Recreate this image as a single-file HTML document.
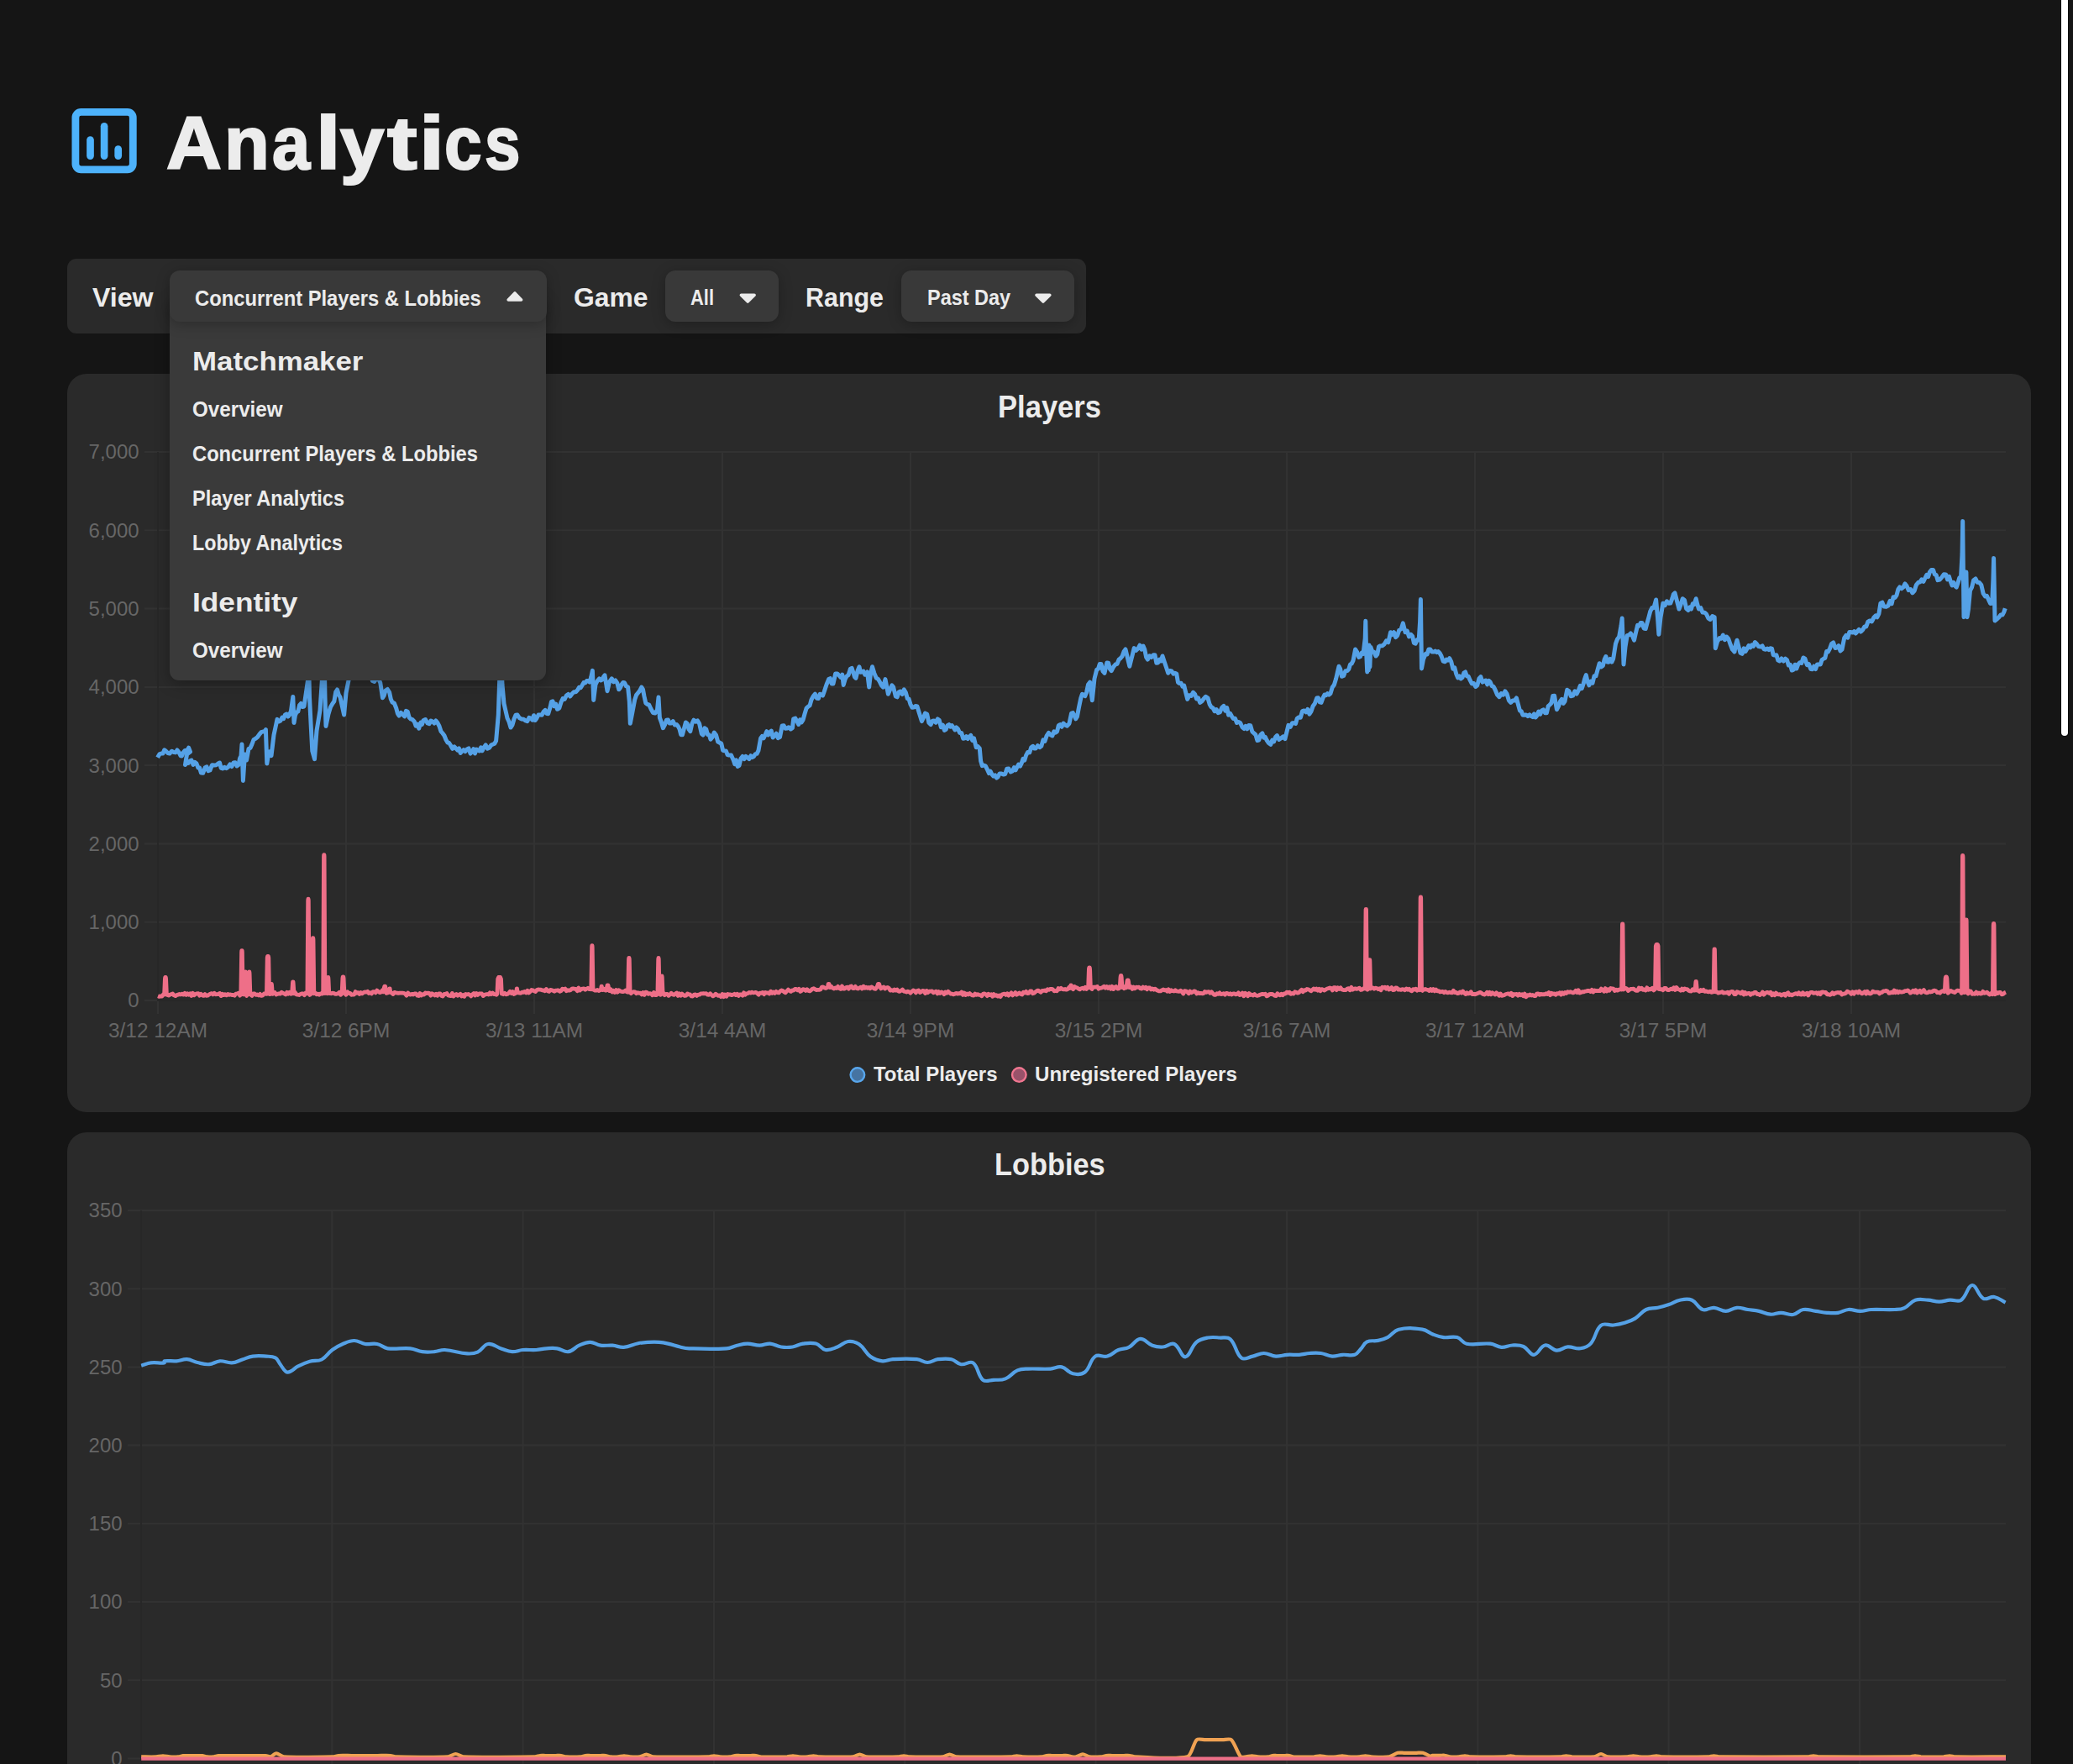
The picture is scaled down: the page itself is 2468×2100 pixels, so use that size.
<!DOCTYPE html>
<html lang="en">
<head>
<meta charset="utf-8">
<title>Analytics</title>
<style>
*{box-sizing:border-box;margin:0;padding:0}
html,body{width:2468px;height:2100px;overflow:hidden;background:#151515}
body{position:relative;font-family:"Liberation Sans",sans-serif;color:#ececec}
.abs{position:absolute}
.t{position:absolute;white-space:nowrap;line-height:1;transform-origin:0 50%;color:#ececec}
.b{font-weight:bold}
.ttl{position:absolute;left:0;top:126.24px;font-size:89.5px;line-height:1;font-weight:bold;color:#ececec;-webkit-text-stroke:2.2px #ececec}
.ttl span{position:absolute;top:0;transform-origin:0 50%;display:block}
.toolbar{left:80px;top:308px;width:1213px;height:88.5px;border-radius:11px;background:#2a2a2a}
.btn{top:322px;height:61px;border-radius:12px;background:#393939;box-shadow:0 3px 16px rgba(0,0,0,.26)}
.card{left:80px;width:2337.5px;border-radius:23px;background:#2a2a2a}
.menu{left:202px;top:352px;width:448px;height:457.5px;border-radius:12px 12px 11px 11px;background:#3a3a3a;box-shadow:0 4px 18px rgba(0,0,0,.30)}
.ax{fill:#666;font-family:"Liberation Sans",sans-serif;font-size:24px}
.axx{font-size:24.4px}
.scroll{left:2454px;top:-8px;width:8px;height:883.5px;border-radius:4px;background:#fff;box-shadow:0 0 0 1px #000}
svg{position:absolute;left:0;top:0;overflow:visible}
</style>
</head>
<body>
<!-- header -->
<svg class="abs" width="2468" height="300" viewBox="0 0 2468 300">
  <rect x="89.9" y="133.4" width="68.4" height="68.4" rx="6.5" ry="6.5" fill="none" stroke="#4db2fb" stroke-width="8.8"/>
  <g stroke="#4db2fb" stroke-width="8.7" stroke-linecap="round">
    <line x1="107.5" y1="166.5" x2="107.5" y2="185.6"/>
    <line x1="124.1" y1="150.3" x2="124.1" y2="185.6"/>
    <line x1="140.7" y1="177.7" x2="140.7" y2="185.6"/>
  </g>
</svg>
<h1 class="ttl" aria-label="Analytics"><span style="left:198.18px;transform:scaleX(1.0174)">A</span><span style="left:267.07px;transform:scaleX(0.9831)">n</span><span style="left:323.88px;transform:scaleX(0.9063)">a</span><span style="left:375.7px;transform:scaleX(1.1842)">l</span><span style="left:405.45px;transform:scaleX(1.0498)">y</span><span style="left:460.62px;transform:scaleX(1.1954)">t</span><span style="left:498.5px;transform:scaleX(1.2039)">i</span><span style="left:529.1px;transform:scaleX(0.8962)">c</span><span style="left:576.58px;transform:scaleX(0.8528)">s</span></h1>

<!-- toolbar -->
<div class="abs toolbar"></div>
<div class="t b" id="t_view" style="left:110.3px;top:337.91px;font-size:32px;transform:scaleX(1.0035)">View</div>
<div class="t b" id="t_game" style="left:682.6px;top:337.91px;font-size:32px;transform:scaleX(0.9962)">Game</div>
<div class="abs btn" style="left:792px;width:135px"></div>
<div class="t b" id="t_all" style="left:822px;top:342.44px;font-size:25.0px;transform:scaleX(0.8763)">All</div>
<div class="t b" id="t_range" style="left:958.8px;top:337.91px;font-size:32px;transform:scaleX(0.9510)">Range</div>
<div class="abs btn" style="left:1073px;width:205.7px"></div>
<div class="t b" id="t_past" style="left:1103.5px;top:342.44px;font-size:25.0px;transform:scaleX(0.9382)">Past Day</div>

<!-- cards -->
<div class="abs card" style="top:445px;height:878.5px"></div>
<div class="abs card" style="top:1348px;height:800px"></div>
<div class="t b" id="t_players" style="left:1188.1px;top:466.18px;font-size:37px;transform:scaleX(0.9341)">Players</div>
<div class="t b" id="t_lobbies" style="left:1183.7px;top:1368.48px;font-size:37px;transform:scaleX(0.9285)">Lobbies</div>

<!-- charts -->
<svg width="2468" height="2100" viewBox="0 0 2468 2100">
  <g stroke="#323232" stroke-width="2" fill="none">
    <path d="M172 538.0H2388"/>
    <path d="M172 631.3H2388"/>
    <path d="M172 724.6H2388"/>
    <path d="M172 817.9H2388"/>
    <path d="M172 911.1H2388"/>
    <path d="M172 1004.4H2388"/>
    <path d="M172 1097.7H2388"/>
    <path d="M172 1191H187"/>
    <path d="M187 1191H2388" stroke="#272727"/>
    <path d="M188 538V1190" stroke="#272727"/><path d="M188 1192V1207"/>
    <path d="M412 538V1207"/>
    <path d="M636 538V1207"/>
    <path d="M860 538V1207"/>
    <path d="M1084 538V1207"/>
    <path d="M1308 538V1207"/>
    <path d="M1532 538V1207"/>
    <path d="M1756 538V1207"/>
    <path d="M1980 538V1207"/>
    <path d="M2204 538V1207"/>
  </g>
  <g class="ax" text-anchor="end"><text x="165.6" y="546.4">7,000</text><text x="165.6" y="639.7">6,000</text><text x="165.6" y="733.0">5,000</text><text x="165.6" y="826.3">4,000</text><text x="165.6" y="919.5">3,000</text><text x="165.6" y="1012.8">2,000</text><text x="165.6" y="1106.1">1,000</text><text x="165.6" y="1199.4">0</text></g>
  <g class="ax axx" text-anchor="middle"><text x="188.0" y="1234.8">3/12 12AM</text><text x="412.0" y="1234.8">3/12 6PM</text><text x="636.0" y="1234.8">3/13 11AM</text><text x="860.0" y="1234.8">3/14 4AM</text><text x="1084.0" y="1234.8">3/14 9PM</text><text x="1308.0" y="1234.8">3/15 2PM</text><text x="1532.0" y="1234.8">3/16 7AM</text><text x="1756.0" y="1234.8">3/17 12AM</text><text x="1980.0" y="1234.8">3/17 5PM</text><text x="2204.0" y="1234.8">3/18 10AM</text></g>
  <clipPath id="c1"><rect x="185" y="520" width="2206" height="690"/></clipPath>
  <g clip-path="url(#c1)" fill="none" stroke-linejoin="round" stroke-linecap="butt">
    <path d="M187.6 901.8L189.8 897.9L192.0 897.0L193.9 897.1L195.7 892.8L197.6 894.3L199.8 896.5L202.0 897.0L204.5 894.2L207.0 895.6L209.0 895.9L211.0 893.0L213.0 895.6L215.0 899.7L216.5 899.9L218.0 896.0L220.2 893.4L222.4 893.9L224.6 890.2L226.5 895.0L222.5 898.0L220.5 910.5L222.3 908.2L224.2 908.4L226.0 906.0L228.0 905.0L230.0 910.4L232.0 907.3L234.0 909.0L235.8 913.9L237.6 914.0L239.4 920.0L241.7 920.3L244.0 914.0L246.0 912.8L248.0 917.7L250.0 917.0L252.5 910.7L255.0 911.0L257.4 910.7L259.7 909.0L261.5 908.0L263.2 914.4L265.0 915.0L267.3 913.3L269.5 914.6L271.8 913.0L273.9 909.9L275.9 912.6L278.0 908.0L280.0 907.7L282.0 911.9L284.0 910.5L285.5 902.9L287.0 900.0L288.0 886.0L289.4 929.4L291.5 898.0L293.5 905.0L296.0 891.5L298.0 890.4L300.0 886.0L302.0 880.6L304.0 879.4L306.5 877.5L309.0 874.0L311.0 871.7L313.0 871.0L314.7 871.0L316.4 868.6L317.8 909.0L320.0 895.0L321.5 894.8L323.0 899.7L324.5 887.4L326.0 875.0L328.0 865.7L330.0 856.4L332.0 859.0L334.0 858.0L335.8 854.2L337.6 855.6L339.4 851.0L341.2 850.1L343.0 853.0L344.8 850.9L346.5 846.0L348.8 829.4L350.0 860.5L351.5 851.4L353.0 848.0L354.8 847.1L356.5 839.7L358.3 837.5L360.1 841.5L362.0 841.0L364.2 825.8L366.4 810.5L367.3 770.0L368.5 830.0L370.1 862.0L371.8 894.0L374.5 903.7L377.0 870.0L379.0 857.8L381.0 845.6L382.5 822.8L384.0 800.0L385.8 760.0L387.0 830.0L388.0 864.5L389.5 857.2L391.0 850.0L393.5 841.7L396.0 837.5L397.8 835.1L399.7 823.9L401.5 821.0L403.2 826.9L405.0 830.0L407.3 840.5L409.6 851.0L412.0 825.0L413.5 817.5L415.0 810.0L417.5 800.7L420.0 798.0L422.0 796.3L424.0 790.9L426.0 790.0L428.0 793.7L430.0 791.0L432.0 793.0L434.0 797.6L436.0 797.6L438.0 801.0L439.8 806.6L441.6 804.6L443.4 810.5L445.7 811.5L448.0 808.0L450.4 807.4L452.8 813.0L455.5 830.8L457.2 827.9L459.0 822.0L461.3 820.5L463.6 824.0L465.3 832.3L467.0 836.0L469.4 837.3L471.7 843.0L473.4 849.4L475.0 852.0L477.4 848.5L479.8 851.0L481.6 852.9L483.4 846.4L485.2 847.0L487.1 854.0L489.0 856.0L491.1 856.7L493.3 859.0L495.1 864.3L496.9 862.1L498.7 867.2L501.0 860.0L502.5 862.3L504.0 857.8L506.5 856.5L509.0 861.0L511.0 861.7L513.0 858.0L515.0 859.0L517.0 861.0L519.0 858.0L521.0 860.6L523.0 864.5L525.0 870.6L527.0 873.0L529.0 875.8L531.0 880.8L532.9 884.0L534.7 884.5L536.6 887.5L538.7 891.4L540.9 888.9L543.0 891.0L544.8 893.1L546.5 891.0L548.2 896.5L550.0 894.3L552.0 892.7L554.0 894.6L556.0 892.0L558.0 890.9L560.0 897.1L562.0 895.0L563.8 891.6L565.5 897.0L567.2 892.1L569.0 893.0L570.8 894.0L572.5 889.9L574.2 893.8L576.0 890.0L578.2 886.8L580.3 891.2L582.5 890.2L584.8 887.0L587.0 886.0L588.8 885.2L590.6 882.0L593.3 851.0L595.0 800.0L596.3 770.0L598.0 815.0L600.0 837.5L602.0 846.2L604.0 855.0L606.0 859.2L608.0 866.0L610.0 863.0L612.0 856.0L614.0 851.3L616.0 851.0L618.5 854.8L621.0 856.0L623.4 856.3L625.7 857.8L627.8 858.6L629.9 854.3L632.0 855.0L633.8 857.2L635.5 851.7L637.2 857.5L639.0 855.0L641.0 851.0L643.0 851.0L645.1 851.3L647.3 847.0L649.1 845.4L650.9 849.6L652.7 849.7L655.0 842.0L656.5 835.3L658.0 834.8L659.8 840.8L661.7 838.1L663.5 844.3L665.8 843.0L668.0 836.0L670.1 831.6L672.2 832.4L674.3 828.0L676.5 826.4L678.8 829.0L681.0 826.0L683.3 823.7L685.5 823.7L687.8 821.3L689.5 818.3L691.3 818.8L693.0 816.0L694.9 812.6L696.7 813.1L698.6 810.5L700.3 810.6L702.0 812.0L703.7 806.2L705.4 798.4L706.7 833.5L709.0 815.0L711.2 810.5L713.5 807.8L715.2 810.0L717.0 809.0L718.5 805.7L720.0 803.8L721.5 813.2L723.0 822.7L725.5 812.0L728.3 807.8L730.5 811.9L732.7 810.0L734.8 813.1L736.8 820.8L738.4 818.9L740.0 815.0L741.8 812.5L743.5 812.7L745.5 816.9L747.6 818.0L749.3 835.0L750.3 861.3L752.5 850.0L754.1 841.5L755.7 833.0L757.6 827.4L759.5 825.0L761.6 822.4L763.8 818.0L765.4 820.5L767.0 829.0L768.8 837.0L770.5 838.3L772.8 839.2L775.0 844.0L777.5 848.5L780.0 849.0L782.5 845.0L784.0 830.0L785.4 854.5L787.4 859.8L789.4 866.7L791.5 862.8L793.5 857.2L795.3 856.9L797.2 861.1L799.0 861.0L801.2 858.6L803.4 863.1L805.6 862.6L807.3 864.6L809.0 868.0L810.7 874.7L812.4 874.8L814.4 867.4L816.4 860.0L818.2 861.5L820.0 868.1L821.8 870.7L823.8 861.8L825.9 857.2L828.1 859.2L830.4 857.9L832.6 861.3L835.3 873.5L837.1 875.0L838.9 866.8L840.7 868.0L842.5 874.6L844.2 874.8L846.0 880.2L848.1 877.7L850.2 872.0L852.5 875.0L854.7 883.0L857.0 884.3L858.8 885.3L860.6 893.3L862.4 893.7L864.3 893.9L866.1 898.5L868.0 899.0L870.5 898.9L873.0 904.5L874.8 909.6L876.5 904.9L878.2 912.5L880.0 911.3L882.0 903.0L884.0 900.5L886.0 903.7L888.0 900.3L890.0 902.0L891.9 903.7L893.8 899.7L895.6 901.6L897.5 900.5L899.3 897.6L901.1 897.3L902.9 893.7L905.6 878.9L907.4 876.3L909.2 878.8L911.0 875.0L912.8 870.7L914.6 874.9L916.4 872.0L918.3 870.1L920.1 878.0L922.0 876.0L924.2 873.2L926.3 878.6L928.5 877.5L931.2 864.0L933.1 863.8L935.1 867.2L937.0 867.0L939.1 865.7L941.3 868.0L943.4 866.7L944.7 855.9L946.9 855.1L949.0 859.0L950.7 862.5L952.5 856.7L954.2 860.0L956.1 856.9L958.0 850.0L960.1 843.1L962.3 841.0L964.1 839.8L966.0 833.0L968.2 828.8L970.4 826.2L972.5 831.3L974.5 831.6L976.2 826.2L978.0 827.0L979.6 828.0L981.2 823.5L984.0 815.0L986.6 808.6L988.4 807.7L990.2 814.1L992.0 814.0L994.7 801.9L996.9 801.9L999.0 804.0L1000.9 806.4L1002.8 803.2L1004.2 815.4L1006.1 808.7L1008.0 805.0L1010.1 803.6L1012.3 796.5L1014.1 795.4L1016.0 801.0L1017.5 805.9L1019.0 807.3L1021.0 798.8L1023.0 793.8L1024.5 800.2L1026.0 800.0L1027.9 799.0L1029.8 803.2L1032.5 800.0L1034.7 818.0L1036.5 802.0L1038.5 793.8L1040.9 801.6L1043.3 807.3L1045.2 808.2L1047.0 811.0L1049.2 815.5L1051.4 818.0L1054.0 808.6L1055.7 817.4L1057.4 826.2L1060.0 820.0L1061.8 815.9L1063.6 818.0L1066.3 828.9L1068.2 829.8L1070.1 824.0L1072.0 823.0L1074.2 826.5L1076.3 820.9L1078.5 824.8L1080.3 831.7L1082.1 832.2L1083.9 838.3L1086.0 842.3L1088.0 842.0L1090.0 840.5L1092.0 841.0L1093.8 846.9L1095.6 852.7L1097.4 858.6L1099.4 854.5L1101.4 849.1L1103.7 850.3L1105.9 860.5L1108.2 862.6L1110.1 858.2L1112.0 858.0L1114.2 860.2L1116.3 855.9L1118.3 857.5L1120.3 865.7L1122.4 863.1L1124.4 869.4L1126.2 868.3L1128.0 863.6L1129.8 862.6L1131.5 865.2L1133.3 863.6L1135.0 866.0L1136.9 868.9L1138.7 866.0L1140.6 868.0L1142.6 872.5L1144.7 872.5L1146.7 879.3L1148.7 878.9L1150.5 876.7L1152.2 879.5L1154.0 877.0L1155.8 875.4L1157.7 881.4L1159.5 878.9L1162.2 889.7L1164.2 888.6L1166.3 891.0L1167.6 905.9L1169.3 911.6L1171.0 911.0L1173.3 911.8L1175.7 916.7L1177.5 920.6L1179.2 918.2L1181.0 922.0L1182.8 924.0L1184.7 922.9L1186.5 926.1L1188.2 924.7L1190.0 921.0L1192.3 920.9L1194.6 922.0L1196.7 921.5L1198.7 915.3L1200.9 915.1L1203.2 919.0L1205.4 918.0L1207.3 913.7L1209.1 916.8L1211.0 913.0L1212.7 910.0L1214.5 912.1L1216.2 908.6L1218.0 903.3L1219.8 905.1L1221.6 899.1L1223.6 895.5L1225.7 895.9L1227.7 889.7L1229.7 888.3L1231.3 891.0L1233.0 891.0L1235.4 887.6L1237.8 889.7L1239.8 888.3L1241.9 880.8L1244.0 882.3L1246.0 876.2L1248.5 872.4L1251.0 875.0L1252.9 875.9L1254.8 870.8L1256.7 872.1L1258.5 870.9L1260.3 863.7L1262.1 862.6L1264.1 865.3L1266.0 861.0L1268.0 863.0L1270.5 864.2L1273.0 861.3L1275.6 849.1L1277.3 848.6L1279.0 852.0L1280.7 855.8L1282.4 853.2L1284.5 842.0L1286.8 831.0L1288.4 826.4L1290.0 827.0L1291.8 828.7L1293.5 824.3L1295.5 815.0L1297.6 812.1L1300.3 833.7L1303.0 808.0L1305.7 797.2L1307.5 796.3L1309.2 790.6L1311.0 790.5L1313.0 799.1L1315.0 801.3L1317.8 789.0L1319.6 789.2L1321.4 796.4L1323.2 798.6L1325.6 793.9L1328.0 791.0L1330.0 790.4L1332.0 785.3L1334.0 783.7L1336.0 781.4L1338.0 775.8L1340.0 773.0L1342.4 783.1L1344.8 793.2L1346.6 786.0L1348.4 778.8L1350.2 771.6L1352.6 774.3L1355.0 772.0L1357.0 768.2L1359.0 773.1L1361.0 769.0L1362.8 773.3L1364.6 782.3L1366.4 785.0L1368.7 780.8L1370.9 782.5L1373.2 779.7L1375.0 779.7L1376.8 789.2L1378.6 789.0L1380.4 785.1L1382.2 786.9L1384.0 781.0L1386.2 787.8L1388.5 794.5L1390.7 801.3L1392.8 798.4L1395.0 799.0L1397.0 802.1L1398.9 801.3L1400.7 802.0L1402.5 812.4L1404.3 813.5L1406.1 813.3L1407.9 817.1L1409.7 816.2L1411.7 824.3L1413.7 832.4L1416.0 827.7L1418.2 828.5L1420.5 824.3L1422.5 826.2L1424.5 831.8L1426.6 830.8L1428.6 836.4L1430.8 834.9L1433.0 832.0L1435.5 829.3L1438.0 831.0L1440.0 838.2L1442.0 841.8L1444.0 842.8L1446.1 846.7L1448.2 844.6L1450.2 848.6L1452.4 847.9L1454.7 842.4L1456.9 840.5L1458.8 846.3L1460.7 842.5L1462.6 851.1L1464.5 849.3L1466.4 852.6L1468.4 855.6L1470.5 855.3L1472.5 860.5L1474.5 859.4L1476.7 860.7L1479.0 865.8L1481.2 867.5L1483.0 864.4L1484.8 867.9L1486.6 863.4L1488.7 863.7L1490.9 871.1L1493.0 873.0L1494.9 874.6L1496.9 881.5L1498.8 881.0L1500.8 874.8L1502.9 872.9L1504.6 878.2L1506.3 877.4L1508.0 881.0L1510.4 884.5L1512.8 886.4L1514.7 881.2L1516.6 882.8L1518.5 877.5L1520.4 875.6L1522.7 880.5L1525.0 879.0L1527.5 876.9L1529.9 879.6L1531.9 871.5L1533.9 863.4L1536.2 865.3L1538.4 860.8L1540.7 860.7L1542.5 861.5L1544.2 855.4L1546.0 854.0L1548.3 854.3L1550.5 846.7L1552.8 845.9L1554.8 847.8L1556.8 844.4L1558.9 850.1L1560.9 847.2L1563.2 840.4L1565.4 837.4L1567.7 831.0L1569.5 830.7L1571.2 835.9L1573.0 836.4L1575.0 830.8L1577.0 827.0L1578.8 827.7L1580.5 825.6L1582.2 827.1L1584.0 825.6L1586.2 818.3L1588.4 815.3L1590.6 808.0L1592.3 800.6L1594.0 793.2L1595.7 796.5L1597.4 805.3L1599.6 804.5L1601.8 798.8L1604.0 798.6L1605.8 796.6L1607.5 790.9L1609.2 790.1L1611.0 786.4L1613.6 773.0L1615.7 776.4L1617.7 782.4L1619.5 781.7L1621.2 777.0L1623.0 778.3L1625.2 760.0L1625.8 739.2L1626.6 775.0L1627.7 800.0L1628.5 774.0L1629.3 798.0L1630.1 768.0L1630.9 794.0L1631.8 770.2L1633.9 775.9L1635.9 776.3L1638.0 781.0L1639.8 778.9L1641.5 769.7L1643.3 768.9L1645.7 768.8L1648.0 767.0L1650.4 763.0L1652.8 764.8L1655.5 752.7L1657.5 755.5L1659.5 752.7L1661.6 758.6L1663.6 756.7L1665.8 750.1L1668.1 748.9L1670.3 741.9L1673.0 752.7L1675.3 751.1L1677.5 757.9L1679.8 755.4L1681.6 757.4L1683.4 765.5L1685.2 766.2L1687.2 761.5L1689.2 762.0L1690.6 740.0L1691.4 713.5L1692.0 760.0L1692.5 795.9L1694.5 785.0L1697.3 778.3L1699.1 778.9L1700.9 773.0L1702.7 773.0L1704.8 776.1L1707.0 776.0L1708.7 775.1L1710.5 776.7L1712.2 775.6L1714.1 777.5L1716.0 781.0L1718.2 787.1L1720.3 787.8L1722.1 785.1L1723.9 786.1L1725.7 783.7L1727.7 787.6L1729.8 796.1L1731.8 794.8L1733.8 802.6L1735.6 806.9L1737.4 804.8L1739.2 808.0L1741.0 806.6L1742.8 801.2L1744.6 800.0L1746.4 805.0L1748.2 805.2L1750.0 809.4L1752.3 813.9L1754.5 813.5L1756.8 817.5L1758.8 816.0L1760.8 808.0L1762.9 805.7L1764.9 812.1L1767.0 811.0L1768.8 810.0L1770.7 814.9L1772.5 810.4L1774.3 812.1L1776.2 816.7L1778.1 817.4L1780.0 821.0L1782.5 827.0L1785.0 829.7L1787.3 825.5L1789.6 827.2L1791.9 822.9L1794.1 826.2L1796.4 833.9L1798.6 836.4L1800.9 834.0L1803.1 834.1L1805.4 831.0L1807.4 838.5L1809.4 845.9L1811.2 846.8L1813.0 851.2L1814.8 851.3L1816.8 850.9L1818.9 852.6L1821.0 850.8L1823.0 852.6L1824.8 853.6L1826.5 849.9L1828.2 853.9L1830.0 851.6L1831.8 847.0L1833.7 850.3L1835.5 846.0L1837.5 844.8L1839.6 848.8L1841.4 848.7L1843.2 840.7L1845.0 839.2L1846.9 837.0L1848.7 828.5L1850.6 828.2L1853.4 844.7L1855.5 840.9L1857.5 835.0L1859.3 832.4L1861.2 837.4L1863.0 835.0L1865.7 821.3L1868.0 822.9L1870.3 828.8L1872.6 828.2L1874.9 822.8L1877.2 826.0L1879.5 821.3L1881.3 816.4L1883.2 819.6L1885.0 814.5L1886.7 808.0L1888.3 803.5L1890.1 811.7L1891.9 815.8L1893.9 811.0L1896.0 813.2L1898.0 804.7L1900.0 804.8L1902.1 797.2L1904.2 789.7L1906.3 794.0L1908.4 792.5L1910.2 784.8L1911.9 781.5L1913.6 788.0L1915.2 788.3L1917.0 784.4L1918.9 788.1L1920.7 784.2L1923.5 766.3L1925.5 761.0L1927.6 758.1L1930.0 745.0L1931.2 736.1L1932.2 765.0L1933.0 791.0L1935.0 770.0L1937.2 756.7L1939.3 756.0L1941.4 754.0L1943.5 757.1L1945.5 762.2L1947.5 753.3L1949.6 744.4L1951.4 745.1L1953.2 741.6L1955.0 741.6L1957.1 748.0L1959.2 748.5L1961.0 741.6L1962.9 734.8L1964.7 727.9L1966.8 723.6L1968.9 723.7L1971.6 714.0L1973.5 735.0L1974.9 755.3L1977.0 735.0L1979.9 718.2L1982.2 720.6L1984.4 715.8L1986.7 718.2L1988.8 718.0L1990.8 712.7L1992.4 707.3L1994.0 705.9L1996.5 715.5L1999.0 725.0L2001.1 719.5L2003.2 712.7L2005.5 714.5L2007.7 724.6L2010.0 726.5L2011.8 722.8L2013.5 725.1L2015.2 718.9L2017.0 719.6L2019.2 712.7L2020.8 719.6L2022.5 725.0L2024.8 723.7L2027.0 729.1L2029.3 729.2L2031.6 731.2L2033.9 736.1L2036.2 737.5L2038.7 733.5L2041.2 734.7L2042.3 771.8L2044.5 764.0L2047.2 759.5L2049.3 760.3L2051.3 756.1L2053.4 761.7L2055.5 758.0L2057.8 760.5L2060.0 767.0L2062.5 773.2L2065.0 776.0L2066.5 767.2L2068.0 762.2L2070.0 769.8L2072.0 777.3L2074.1 778.4L2076.1 771.8L2078.1 775.5L2080.2 771.8L2082.0 768.5L2083.9 770.8L2085.7 768.0L2087.5 769.4L2089.4 764.5L2091.2 766.3L2093.6 769.6L2096.0 770.0L2098.1 768.9L2100.1 772.8L2102.2 773.2L2104.0 772.0L2105.9 773.6L2107.7 771.8L2109.5 772.1L2111.2 779.8L2113.0 780.0L2114.9 779.8L2116.8 786.1L2118.7 787.0L2121.0 784.0L2123.3 787.0L2125.6 784.2L2127.5 785.7L2129.4 792.0L2131.4 791.4L2133.3 798.0L2135.2 797.4L2137.0 791.2L2138.8 796.0L2140.7 791.0L2142.8 788.7L2144.8 789.5L2146.9 783.0L2149.0 784.2L2151.3 791.6L2153.5 790.6L2155.8 796.6L2157.7 796.8L2159.6 793.2L2161.6 796.5L2163.5 790.9L2165.4 791.0L2167.3 791.0L2169.1 785.5L2171.0 784.2L2172.8 783.5L2174.6 775.5L2176.4 776.0L2178.5 772.1L2180.6 766.3L2182.7 765.0L2184.9 771.5L2187.0 771.0L2189.0 768.7L2191.0 775.0L2193.0 773.2L2195.7 759.5L2197.8 756.5L2199.8 759.2L2201.8 752.4L2203.9 752.6L2205.7 753.1L2207.4 751.7L2209.2 754.1L2211.0 752.0L2213.2 749.4L2215.5 752.0L2217.7 749.8L2219.8 746.1L2221.8 745.9L2223.9 740.1L2226.0 738.9L2228.5 739.9L2231.0 735.0L2233.0 732.9L2234.9 734.8L2236.9 730.6L2238.9 718.2L2240.9 717.2L2243.0 722.0L2245.5 722.4L2248.0 721.0L2250.1 715.4L2252.1 718.8L2254.1 710.7L2256.2 711.4L2258.0 708.7L2259.9 701.5L2261.7 699.0L2263.8 700.7L2266.0 699.0L2268.0 694.9L2270.0 697.6L2272.3 702.6L2274.5 701.5L2276.8 705.9L2279.1 703.6L2281.4 696.3L2283.7 693.5L2285.8 692.9L2287.8 689.9L2289.9 692.3L2292.0 688.0L2293.8 684.3L2295.6 686.6L2297.4 681.1L2299.4 678.5L2301.5 678.4L2303.3 683.8L2305.2 684.6L2307.0 690.7L2309.5 690.0L2312.0 687.0L2314.3 683.8L2316.7 683.9L2318.5 689.9L2320.4 686.3L2322.2 692.1L2324.0 696.8L2325.9 693.4L2327.7 697.6L2329.3 699.0L2331.0 694.0L2332.8 687.8L2334.5 688.0L2336.0 660.0L2336.7 620.6L2337.4 680.0L2338.0 734.7L2339.3 730.0L2340.9 681.1L2342.0 734.7L2343.5 725.0L2345.5 703.1L2347.6 699.0L2349.7 690.7L2352.0 689.0L2354.2 693.3L2356.5 693.5L2358.8 696.3L2361.1 706.4L2363.4 710.0L2365.4 709.3L2367.5 714.0L2369.6 718.5L2371.7 718.2L2372.9 690.0L2373.6 664.6L2374.3 700.0L2375.0 738.9L2377.5 737.0L2379.9 734.7L2381.9 731.9L2384.0 732.0L2385.7 728.9L2387.3 724.3" stroke="#55a1e6" stroke-width="5"/>
    <path d="M188.0 1185.8L189.6 1186.4L191.2 1185.8L192.8 1186.2L194.4 1183.9L195.6 1184.0L196.4 1165.4L196.7 1163.4L197.3 1163.4L197.6 1165.4L198.4 1184.0L199.2 1184.4L200.8 1185.0L202.4 1184.2L204.0 1183.6L205.6 1182.9L207.2 1184.9L208.8 1185.6L210.4 1184.6L212.0 1184.2L213.6 1183.5L215.2 1184.0L216.8 1183.1L218.4 1184.1L220.0 1182.3L221.6 1184.4L223.2 1182.7L224.8 1184.2L226.4 1182.7L228.0 1185.5L229.6 1182.3L231.2 1184.8L232.8 1183.4L234.4 1182.8L236.0 1182.7L237.6 1185.1L239.2 1183.3L240.8 1184.9L242.4 1185.4L244.0 1183.5L245.6 1185.3L247.2 1185.2L248.8 1184.1L250.4 1183.2L252.0 1182.6L253.6 1183.9L255.2 1182.3L256.8 1183.8L258.4 1183.7L260.0 1183.3L261.6 1182.5L263.2 1185.6L264.8 1183.3L266.4 1184.6L268.0 1183.6L269.6 1184.8L271.2 1183.5L272.8 1184.3L274.4 1183.9L276.0 1184.5L277.6 1184.4L279.2 1185.2L280.8 1183.1L282.4 1182.9L284.0 1182.2L285.6 1185.2L286.8 1183.9L287.6 1133.6L287.8 1131.6L288.2 1131.6L288.4 1133.6L289.2 1183.9L290.4 1183.9L291.2 1183.9L292.0 1159.0L292.2 1157.0L292.4 1157.0L292.6 1159.0L293.4 1183.9L293.6 1185.5L295.2 1183.0L295.7 1183.8L296.5 1159.0L296.7 1157.0L296.9 1157.0L297.1 1159.0L297.9 1183.8L298.4 1184.2L300.0 1185.5L301.6 1182.8L303.2 1183.0L304.8 1184.3L306.4 1184.0L308.0 1185.0L309.6 1183.4L311.2 1185.4L312.8 1184.9L314.4 1183.0L316.0 1182.9L317.4 1183.4L318.2 1140.3L318.6 1138.3L319.4 1138.3L319.8 1140.3L320.6 1183.4L320.8 1183.6L322.2 1183.3L323.0 1173.5L323.2 1171.5L323.4 1171.5L323.6 1173.5L324.4 1183.3L325.6 1182.3L327.2 1181.5L328.8 1184.0L330.4 1183.3L332.0 1182.9L333.6 1183.2L335.2 1181.2L336.8 1182.3L338.4 1182.9L340.0 1183.9L341.6 1181.3L343.2 1183.2L344.8 1181.2L346.4 1183.3L347.6 1182.9L348.4 1170.8L348.6 1168.8L349.0 1168.8L349.2 1170.8L350.0 1182.9L351.2 1181.2L352.8 1183.8L354.4 1184.2L356.0 1184.5L357.6 1183.7L359.2 1182.9L360.8 1183.0L362.4 1184.7L364.0 1181.8L365.6 1182.1L365.9 1182.8L366.7 1072.2L366.9 1070.2L367.1 1070.2L367.3 1072.2L368.1 1182.8L368.8 1184.4L370.4 1183.0L371.4 1182.8L372.2 1118.7L372.4 1116.7L372.8 1116.7L373.0 1118.7L373.8 1182.8L375.2 1181.9L376.8 1183.8L378.4 1183.1L380.0 1184.2L381.6 1182.8L383.2 1183.2L384.7 1182.7L385.5 1019.6L385.7 1017.6L385.9 1017.6L386.1 1019.6L386.9 1182.7L388.0 1181.2L389.6 1182.7L390.4 1165.4L390.6 1163.4L390.8 1163.4L391.0 1165.4L391.8 1182.7L392.8 1182.0L394.4 1182.8L396.0 1182.2L397.6 1182.5L399.2 1183.3L400.8 1183.3L402.4 1182.7L404.0 1181.2L405.6 1184.3L407.1 1182.6L407.9 1164.9L408.2 1162.9L408.8 1162.9L409.1 1164.9L409.9 1182.6L410.4 1182.6L412.0 1184.3L413.6 1180.7L415.2 1182.5L416.8 1182.3L418.4 1184.3L420.0 1184.0L421.6 1184.0L423.2 1180.6L424.8 1182.2L426.4 1181.6L428.0 1183.5L429.6 1181.5L431.2 1182.8L432.8 1181.6L434.4 1181.0L436.0 1181.1L437.6 1180.3L439.2 1182.5L440.8 1181.6L442.4 1182.9L444.0 1180.7L445.6 1180.7L447.2 1181.9L448.8 1179.1L450.4 1180.4L452.0 1181.6L453.6 1181.1L455.2 1178.9L456.5 1180.8L457.3 1176.2L457.8 1174.2L458.6 1174.2L459.1 1176.2L459.9 1180.8L460.0 1182.4L461.6 1181.8L462.8 1181.5L463.6 1179.0L463.8 1177.0L464.2 1177.0L464.4 1179.0L465.2 1181.5L466.4 1182.3L468.0 1183.4L469.6 1181.4L471.2 1181.9L472.8 1182.1L474.4 1182.4L476.0 1182.2L477.6 1182.2L479.2 1182.2L480.8 1182.3L482.4 1183.3L484.0 1185.2L485.6 1182.0L487.2 1183.7L488.8 1184.1L490.4 1183.3L492.0 1184.0L493.6 1183.0L495.2 1182.8L496.8 1185.2L498.4 1185.5L500.0 1182.5L501.6 1184.9L503.2 1183.7L504.8 1184.1L506.4 1181.9L508.0 1182.7L509.6 1182.1L511.2 1182.3L512.8 1185.2L514.4 1182.8L516.0 1183.6L517.6 1185.0L519.2 1183.2L520.8 1185.3L522.4 1182.8L524.0 1182.8L525.6 1185.4L527.2 1186.0L528.8 1183.5L530.4 1183.5L532.0 1182.5L533.6 1185.0L535.2 1185.4L536.8 1185.6L538.4 1182.4L540.0 1186.0L541.6 1184.5L543.2 1183.5L544.8 1185.2L546.4 1184.1L548.0 1183.3L549.6 1185.9L551.2 1184.6L552.8 1186.2L554.4 1183.5L556.0 1183.8L557.6 1183.5L559.2 1184.3L560.8 1185.9L562.4 1183.8L564.0 1182.5L565.6 1184.9L567.2 1182.5L568.8 1184.4L570.4 1183.0L572.0 1182.9L573.6 1182.9L575.2 1185.6L576.8 1184.3L578.4 1183.8L580.0 1183.5L581.6 1184.0L583.2 1181.9L584.8 1183.6L586.4 1182.0L588.0 1183.6L589.6 1183.7L591.2 1184.3L591.9 1183.2L592.7 1165.4L593.6 1163.4L595.6 1163.4L596.5 1165.4L597.3 1183.2L597.6 1181.5L599.2 1183.6L600.8 1182.3L602.4 1183.9L604.0 1183.5L605.6 1182.3L607.2 1180.4L608.8 1182.6L610.4 1180.6L612.0 1183.5L613.6 1182.6L614.2 1181.7L615.0 1179.0L615.2 1177.0L615.6 1177.0L615.8 1179.0L616.6 1181.7L616.8 1181.3L618.4 1182.2L620.0 1182.3L621.6 1181.2L623.2 1181.4L624.8 1180.4L626.4 1181.9L628.0 1179.3L629.6 1181.9L631.2 1180.5L632.8 1178.5L634.4 1178.9L636.0 1179.8L637.6 1180.5L639.2 1178.6L640.8 1178.0L642.4 1178.1L644.0 1178.2L645.6 1178.9L647.2 1179.0L648.8 1179.7L650.4 1177.5L652.0 1179.7L653.6 1180.4L655.2 1178.5L656.8 1178.7L658.4 1179.3L660.0 1180.2L661.6 1179.1L663.2 1179.0L664.8 1178.8L666.4 1180.4L668.0 1179.6L669.6 1177.2L671.2 1177.9L672.8 1177.1L674.4 1179.7L676.0 1178.7L677.6 1179.2L679.2 1178.7L680.8 1177.1L682.4 1176.8L684.0 1177.3L685.6 1177.4L687.2 1179.7L688.8 1176.0L690.4 1179.1L692.0 1177.6L693.6 1177.1L695.2 1176.8L696.8 1178.3L698.4 1177.3L700.0 1176.3L701.6 1177.6L703.2 1176.6L703.8 1177.8L704.6 1127.6L704.8 1125.6L705.0 1125.6L705.2 1127.6L706.0 1177.8L706.4 1178.1L708.0 1179.0L709.6 1179.2L711.2 1178.5L712.8 1179.5L714.4 1178.8L715.0 1178.6L715.8 1176.2L716.0 1174.2L716.4 1174.2L716.6 1176.2L717.4 1178.6L717.6 1176.9L719.2 1177.4L720.8 1179.1L721.8 1179.1L722.6 1174.9L723.0 1172.9L724.0 1172.9L724.4 1174.9L725.2 1179.1L725.6 1179.5L727.2 1177.8L728.8 1181.0L730.4 1179.4L732.0 1181.4L733.6 1178.6L735.2 1181.1L736.8 1178.7L738.4 1179.9L740.0 1180.3L741.6 1180.6L743.2 1180.2L744.8 1179.1L746.4 1180.9L747.7 1181.2L748.5 1142.5L748.7 1140.5L749.1 1140.5L749.3 1142.5L750.1 1181.2L751.2 1182.6L752.8 1181.2L754.4 1180.7L756.0 1180.8L757.6 1182.7L759.2 1181.7L760.8 1182.3L762.4 1182.2L764.0 1184.0L765.6 1181.6L767.2 1184.4L768.8 1181.2L770.4 1181.6L772.0 1183.4L773.6 1182.6L775.2 1183.0L776.8 1184.8L778.4 1181.4L780.0 1184.6L781.6 1184.5L782.9 1183.3L783.7 1142.5L783.9 1140.5L784.1 1140.5L784.3 1142.5L785.1 1183.3L786.4 1184.2L786.9 1183.4L787.7 1164.0L787.9 1162.0L788.1 1162.0L788.3 1164.0L789.1 1183.4L789.6 1181.6L791.2 1184.7L792.8 1183.3L794.4 1183.5L796.0 1185.3L797.6 1184.0L799.2 1182.2L800.8 1184.0L802.4 1184.3L804.0 1183.0L805.6 1182.0L807.2 1185.4L808.8 1182.9L810.4 1185.2L812.0 1183.1L813.6 1184.4L815.2 1185.5L816.8 1185.2L818.4 1182.9L820.0 1183.8L821.6 1183.9L823.2 1185.9L824.8 1186.0L826.4 1184.2L828.0 1184.0L829.6 1185.5L831.2 1184.2L832.8 1184.2L834.4 1182.9L836.0 1182.8L837.6 1182.7L839.2 1182.8L840.8 1182.7L842.4 1184.1L844.0 1184.3L845.6 1182.8L847.2 1184.5L848.8 1185.9L850.4 1184.9L852.0 1183.2L853.6 1184.4L855.2 1185.4L856.8 1184.9L858.4 1186.6L860.0 1183.5L861.6 1186.7L863.2 1184.0L864.8 1186.2L866.4 1183.4L868.0 1184.0L869.6 1184.0L871.2 1184.7L872.8 1184.1L874.4 1183.3L876.0 1184.6L877.6 1183.2L879.2 1185.5L880.8 1183.9L882.4 1184.0L884.0 1185.2L885.6 1181.8L887.2 1184.2L888.8 1182.9L890.4 1182.7L892.0 1181.4L893.6 1182.1L895.2 1181.2L896.8 1181.9L898.4 1181.7L900.0 1181.4L901.6 1182.7L903.2 1184.1L904.8 1182.1L906.4 1182.3L908.0 1181.5L909.6 1183.7L911.2 1181.5L912.8 1182.2L914.4 1181.9L916.0 1183.0L917.6 1180.2L919.2 1182.4L920.8 1180.9L922.4 1182.4L924.0 1180.4L925.6 1181.7L927.2 1181.9L928.8 1180.0L930.4 1178.9L932.0 1179.5L933.6 1180.9L935.2 1181.8L936.8 1179.8L938.4 1178.1L940.0 1179.3L941.6 1180.4L943.2 1179.0L944.8 1179.1L946.4 1177.5L948.0 1177.5L949.6 1178.8L951.2 1177.2L952.8 1180.4L954.4 1179.4L956.0 1177.6L957.6 1178.1L959.2 1179.4L960.8 1177.7L962.4 1179.5L964.0 1179.9L965.6 1178.8L967.2 1177.2L968.8 1176.7L970.4 1177.8L972.0 1178.5L973.6 1178.4L975.2 1178.4L976.8 1178.0L978.4 1175.1L980.0 1175.0L981.6 1175.9L983.2 1176.5L984.9 1175.6L985.7 1173.5L986.1 1171.5L987.1 1171.5L987.5 1173.5L988.3 1175.6L989.6 1174.3L991.2 1176.1L992.8 1177.0L994.4 1175.9L996.0 1176.5L997.6 1174.4L999.2 1176.6L1000.8 1177.4L1002.4 1173.9L1004.0 1177.1L1005.6 1177.2L1007.2 1175.5L1008.8 1175.2L1010.4 1177.1L1012.0 1174.6L1013.6 1174.0L1015.2 1176.6L1016.8 1176.5L1018.4 1174.4L1020.0 1176.6L1021.6 1177.0L1023.2 1176.0L1024.8 1175.3L1026.4 1177.0L1028.0 1174.2L1029.6 1176.3L1031.2 1175.1L1032.8 1176.4L1034.4 1175.5L1036.0 1176.8L1037.6 1174.9L1039.2 1175.8L1040.8 1177.0L1042.4 1177.4L1043.8 1175.6L1044.6 1173.5L1045.3 1171.5L1046.7 1171.5L1047.4 1173.5L1048.2 1175.6L1048.8 1176.9L1050.4 1176.0L1052.0 1174.9L1053.6 1177.0L1055.2 1175.8L1056.8 1175.5L1058.4 1176.6L1060.0 1179.1L1061.6 1178.6L1063.2 1179.4L1064.8 1177.9L1066.4 1179.1L1068.0 1178.1L1069.6 1180.1L1071.2 1180.3L1072.8 1179.3L1074.4 1178.0L1076.0 1180.2L1077.6 1180.5L1079.2 1181.0L1080.8 1180.2L1082.4 1180.7L1084.0 1182.1L1085.6 1180.4L1087.2 1178.9L1088.8 1179.7L1090.4 1181.9L1092.0 1179.5L1093.6 1179.0L1095.2 1181.5L1096.8 1180.8L1098.4 1179.4L1100.0 1179.6L1101.6 1182.6L1103.2 1179.5L1104.8 1181.6L1106.4 1180.1L1108.0 1180.1L1109.6 1179.9L1111.2 1181.8L1112.8 1181.1L1114.4 1180.2L1116.0 1182.9L1117.6 1180.6L1119.2 1182.5L1120.8 1180.9L1122.4 1181.7L1124.0 1183.6L1125.6 1181.0L1127.2 1182.3L1128.8 1180.4L1130.4 1181.8L1132.0 1183.1L1133.6 1183.2L1135.2 1183.9L1136.8 1183.2L1138.4 1182.3L1140.0 1183.2L1141.6 1182.6L1143.2 1182.8L1144.8 1181.0L1146.4 1184.4L1148.0 1182.0L1149.6 1184.5L1151.2 1183.0L1152.8 1184.0L1154.4 1182.6L1156.0 1184.0L1157.6 1184.9L1159.2 1185.0L1160.8 1183.0L1162.4 1184.4L1164.0 1183.6L1165.6 1184.4L1167.2 1184.6L1168.8 1185.8L1170.4 1183.4L1172.0 1182.9L1173.6 1183.6L1175.2 1185.6L1176.8 1183.2L1178.4 1184.6L1180.0 1183.8L1181.6 1186.3L1183.2 1183.6L1184.8 1185.3L1186.4 1184.7L1188.0 1186.1L1189.6 1184.9L1191.2 1186.6L1192.8 1184.0L1194.4 1183.4L1196.0 1183.1L1197.6 1184.4L1199.2 1182.8L1200.8 1185.1L1202.4 1183.5L1204.0 1181.9L1205.6 1184.9L1207.2 1183.3L1208.8 1181.6L1210.4 1184.3L1212.0 1183.1L1213.6 1182.0L1215.2 1183.5L1216.8 1184.0L1218.4 1181.2L1220.0 1182.0L1221.6 1180.3L1223.2 1182.7L1224.8 1182.3L1226.4 1180.0L1228.0 1180.0L1229.6 1182.8L1231.2 1182.3L1232.8 1180.8L1234.4 1179.6L1236.0 1179.1L1237.6 1180.2L1239.2 1181.3L1240.8 1179.4L1242.4 1179.4L1244.0 1179.0L1245.6 1179.8L1247.2 1177.8L1248.8 1178.3L1250.4 1177.5L1252.0 1177.3L1253.6 1178.0L1255.2 1179.8L1256.8 1179.5L1258.4 1179.8L1260.0 1176.6L1261.6 1177.7L1263.2 1176.3L1264.8 1177.6L1266.4 1177.9L1268.0 1177.5L1269.6 1178.2L1271.2 1177.6L1272.8 1175.3L1273.8 1176.5L1274.6 1174.9L1274.8 1172.9L1275.2 1172.9L1275.4 1174.9L1276.2 1176.5L1277.6 1177.7L1279.2 1174.5L1280.8 1175.6L1282.4 1175.9L1284.0 1177.1L1285.6 1177.9L1287.2 1176.7L1288.8 1176.2L1290.4 1177.3L1292.0 1175.4L1293.6 1177.4L1295.2 1174.4L1295.6 1176.0L1296.4 1153.8L1296.7 1151.8L1297.3 1151.8L1297.6 1153.8L1298.4 1176.0L1300.0 1177.5L1301.6 1175.1L1303.2 1175.2L1304.8 1175.2L1306.4 1174.4L1308.0 1177.2L1309.6 1176.4L1311.2 1176.2L1312.8 1175.3L1314.4 1174.3L1316.0 1176.1L1317.6 1174.5L1319.2 1176.5L1320.8 1174.8L1322.4 1177.3L1324.0 1174.3L1325.6 1177.6L1327.2 1175.2L1328.8 1174.5L1330.4 1177.1L1332.0 1176.9L1333.2 1175.7L1334.0 1163.5L1334.3 1161.5L1334.9 1161.5L1335.2 1163.5L1336.0 1175.7L1336.8 1174.2L1338.4 1176.8L1340.0 1174.2L1341.0 1175.7L1341.8 1169.0L1342.2 1167.0L1343.2 1167.0L1343.6 1169.0L1344.4 1175.7L1344.8 1175.2L1346.4 1174.7L1348.0 1177.4L1349.6 1175.1L1351.2 1176.8L1352.8 1175.2L1354.4 1175.3L1356.0 1175.1L1357.6 1176.7L1359.2 1177.1L1360.8 1175.1L1362.4 1176.5L1364.0 1175.3L1365.6 1177.7L1367.2 1175.8L1368.8 1176.0L1370.4 1178.0L1372.0 1177.0L1373.6 1178.2L1375.2 1177.1L1376.8 1178.5L1378.4 1179.3L1380.0 1179.9L1381.6 1179.9L1383.2 1178.9L1384.8 1178.0L1386.4 1178.8L1388.0 1178.5L1389.6 1180.2L1391.2 1177.9L1392.8 1180.5L1394.4 1178.7L1396.0 1179.7L1397.6 1180.0L1399.2 1178.8L1400.8 1179.9L1402.4 1180.2L1404.0 1180.4L1405.6 1179.2L1407.2 1180.9L1408.8 1183.0L1410.4 1179.6L1412.0 1179.8L1413.6 1180.9L1415.2 1182.8L1416.8 1180.1L1418.4 1181.7L1420.0 1181.1L1421.6 1179.9L1423.2 1180.4L1424.8 1183.0L1426.4 1181.7L1428.0 1182.7L1429.6 1182.3L1431.2 1182.8L1432.8 1182.6L1434.4 1180.5L1436.0 1181.4L1437.6 1180.8L1439.2 1180.6L1440.8 1182.3L1442.4 1180.8L1444.0 1182.8L1445.6 1184.4L1447.2 1184.3L1448.8 1182.6L1450.4 1183.4L1452.0 1181.9L1453.6 1183.6L1455.2 1183.4L1456.8 1182.7L1458.4 1184.1L1460.0 1182.3L1461.6 1182.7L1463.2 1183.7L1464.8 1182.8L1466.4 1184.0L1468.0 1182.9L1469.6 1182.9L1471.2 1183.8L1472.8 1183.7L1474.4 1181.9L1476.0 1184.6L1477.6 1184.0L1479.2 1182.0L1480.8 1185.8L1482.4 1182.2L1484.0 1183.3L1485.6 1185.8L1487.2 1182.6L1488.8 1184.5L1490.4 1184.2L1492.0 1185.0L1493.6 1183.6L1495.2 1185.0L1496.8 1185.3L1498.4 1185.0L1500.0 1184.3L1501.6 1183.7L1503.2 1183.4L1504.8 1183.7L1506.4 1183.2L1508.0 1185.9L1509.6 1185.3L1511.2 1183.7L1512.8 1183.5L1514.4 1183.3L1516.0 1184.2L1517.6 1185.4L1519.2 1185.5L1520.8 1182.7L1522.4 1184.1L1524.0 1184.9L1525.6 1183.2L1527.2 1184.6L1528.8 1182.9L1530.4 1183.0L1532.0 1181.2L1533.6 1182.1L1535.2 1181.2L1536.8 1183.3L1538.4 1182.5L1540.0 1183.1L1541.6 1180.8L1543.2 1181.3L1544.8 1182.2L1546.4 1181.6L1548.0 1179.7L1549.6 1178.3L1551.2 1180.7L1552.8 1178.7L1554.4 1179.2L1556.0 1177.5L1557.6 1177.9L1559.2 1178.7L1560.8 1179.8L1562.4 1178.5L1564.0 1176.9L1565.6 1178.3L1567.2 1177.0L1568.8 1179.1L1570.4 1177.2L1572.0 1179.7L1573.6 1177.6L1575.2 1178.2L1576.8 1179.0L1578.4 1178.0L1580.0 1177.0L1581.6 1176.7L1583.2 1176.0L1584.8 1176.4L1586.4 1179.0L1588.0 1175.7L1589.6 1175.7L1591.2 1178.7L1592.8 1175.8L1594.4 1177.4L1596.0 1175.8L1597.6 1178.0L1599.2 1178.5L1600.8 1178.6L1602.4 1178.6L1604.0 1177.1L1605.6 1176.7L1607.2 1178.8L1608.8 1175.3L1610.4 1178.2L1612.0 1177.2L1613.6 1176.9L1615.2 1177.4L1616.8 1177.0L1618.4 1176.2L1620.0 1178.5L1621.6 1178.2L1623.2 1176.9L1624.8 1175.8L1625.2 1177.0L1626.0 1084.4L1626.1 1082.4L1626.5 1082.4L1626.6 1084.4L1627.4 1177.0L1628.0 1178.2L1629.5 1177.0L1630.3 1144.6L1630.4 1142.6L1630.8 1142.6L1630.9 1144.6L1631.7 1177.0L1632.8 1176.0L1634.4 1175.8L1636.0 1177.2L1637.6 1176.2L1639.2 1176.5L1640.8 1177.7L1642.4 1176.8L1644.0 1178.8L1645.6 1175.3L1647.2 1176.1L1648.8 1175.2L1650.4 1177.2L1652.0 1175.3L1653.6 1178.1L1655.2 1177.5L1656.8 1175.6L1658.4 1178.6L1660.0 1178.4L1661.6 1175.9L1663.2 1176.2L1664.8 1178.2L1666.4 1178.0L1668.0 1178.4L1669.6 1177.6L1671.2 1178.1L1672.8 1178.7L1674.4 1177.0L1676.0 1178.2L1677.6 1177.3L1679.2 1179.0L1680.8 1179.8L1682.4 1177.6L1684.0 1178.0L1685.6 1177.2L1687.2 1179.2L1688.8 1177.5L1690.3 1178.6L1691.1 1070.0L1691.2 1068.0L1691.6 1068.0L1691.7 1070.0L1692.5 1178.6L1693.6 1179.4L1695.2 1177.8L1696.8 1177.5L1698.4 1178.2L1700.0 1178.4L1701.6 1179.5L1703.2 1177.6L1704.8 1179.4L1706.4 1177.6L1708.0 1179.9L1709.6 1178.1L1711.2 1179.8L1712.8 1179.6L1714.4 1180.9L1716.0 1180.6L1717.6 1180.3L1719.2 1181.7L1720.8 1180.4L1722.4 1181.6L1724.0 1181.8L1725.6 1181.2L1727.2 1181.7L1728.8 1181.9L1730.4 1179.3L1732.0 1181.6L1733.6 1181.4L1735.2 1182.7L1736.8 1182.3L1738.4 1180.9L1740.0 1182.1L1741.6 1180.0L1743.2 1182.0L1744.8 1183.5L1746.4 1181.8L1748.0 1183.0L1749.6 1182.6L1751.2 1180.7L1752.8 1183.5L1754.4 1183.3L1756.0 1183.8L1757.6 1183.2L1759.2 1182.6L1760.8 1181.9L1762.4 1181.4L1764.0 1182.3L1765.6 1183.5L1767.2 1184.1L1768.8 1183.2L1770.4 1181.2L1772.0 1183.8L1773.6 1181.4L1775.2 1183.8L1776.8 1181.8L1778.4 1183.0L1780.0 1184.1L1781.6 1181.9L1783.2 1183.2L1784.8 1185.3L1786.4 1183.0L1788.0 1185.4L1789.6 1185.0L1791.2 1184.4L1792.8 1183.5L1794.4 1183.2L1796.0 1182.8L1797.6 1184.3L1799.2 1182.3L1800.8 1185.6L1802.4 1183.5L1804.0 1183.8L1805.6 1183.4L1807.2 1185.2L1808.8 1183.4L1810.4 1184.7L1812.0 1183.7L1813.6 1185.8L1815.2 1183.1L1816.8 1186.8L1818.4 1184.6L1820.0 1185.2L1821.6 1183.9L1823.2 1185.0L1824.8 1184.5L1826.4 1185.5L1828.0 1185.6L1829.6 1183.1L1831.2 1182.8L1832.8 1184.4L1834.4 1183.4L1836.0 1183.9L1837.6 1183.6L1839.2 1183.8L1840.8 1182.7L1842.4 1183.5L1844.0 1181.6L1845.6 1184.7L1847.2 1182.2L1848.8 1183.4L1850.4 1182.8L1852.0 1184.3L1853.6 1182.6L1855.2 1183.1L1856.8 1181.9L1858.4 1184.1L1860.0 1181.7L1861.6 1183.3L1863.2 1181.5L1864.8 1182.5L1866.4 1180.7L1868.0 1181.3L1869.6 1180.7L1871.2 1181.3L1872.8 1181.9L1874.4 1181.3L1876.0 1179.3L1877.6 1181.6L1879.2 1178.8L1880.8 1182.1L1882.4 1181.5L1884.0 1180.7L1885.6 1180.8L1887.2 1180.1L1888.8 1179.9L1890.4 1179.4L1892.0 1179.5L1893.6 1180.6L1895.2 1178.4L1896.8 1180.9L1898.4 1178.9L1900.0 1179.5L1901.6 1179.7L1903.2 1179.3L1904.8 1179.7L1906.4 1177.0L1908.0 1178.3L1909.6 1180.3L1911.2 1176.6L1912.8 1180.1L1914.4 1177.7L1916.0 1179.1L1917.6 1176.5L1919.2 1176.8L1920.8 1177.1L1922.4 1179.5L1924.0 1178.1L1925.6 1179.1L1927.2 1178.1L1928.8 1178.2L1930.4 1176.5L1930.6 1178.0L1931.4 1101.8L1931.5 1099.8L1931.9 1099.8L1932.0 1101.8L1932.8 1178.0L1933.6 1177.4L1935.2 1176.3L1936.8 1176.9L1938.4 1179.4L1940.0 1178.3L1941.6 1177.3L1943.2 1177.3L1944.8 1177.1L1946.4 1178.6L1948.0 1179.3L1949.6 1179.4L1951.2 1176.0L1952.8 1177.7L1954.4 1176.2L1956.0 1178.4L1957.6 1177.8L1959.2 1179.0L1960.8 1175.8L1962.4 1178.3L1964.0 1177.5L1965.6 1177.8L1967.2 1176.2L1968.8 1178.9L1970.4 1177.6L1970.5 1177.5L1971.3 1126.3L1972.0 1124.3L1973.4 1124.3L1974.1 1126.3L1974.9 1177.5L1975.2 1176.7L1976.8 1177.8L1978.4 1177.6L1980.0 1178.7L1981.6 1176.4L1983.2 1176.3L1984.8 1178.4L1986.4 1178.7L1988.0 1178.0L1989.6 1177.1L1991.2 1177.9L1992.8 1175.7L1994.4 1178.5L1996.0 1175.5L1997.6 1177.7L1999.2 1178.0L2000.8 1179.2L2002.4 1177.1L2004.0 1178.7L2005.6 1176.9L2007.2 1177.7L2008.8 1177.7L2010.4 1179.3L2012.0 1179.9L2013.6 1180.0L2015.2 1177.7L2016.8 1179.1L2018.0 1179.1L2018.8 1170.3L2019.0 1168.3L2019.4 1168.3L2019.6 1170.3L2020.4 1179.1L2021.6 1178.9L2023.2 1180.4L2024.8 1178.6L2026.4 1179.6L2028.0 1178.3L2029.6 1180.4L2031.2 1179.8L2032.8 1180.6L2034.4 1180.8L2036.0 1180.1L2037.6 1181.3L2039.2 1179.5L2040.1 1180.8L2040.9 1131.8L2041.0 1129.8L2041.4 1129.8L2041.5 1131.8L2042.3 1180.8L2044.0 1180.8L2045.6 1182.1L2047.2 1181.7L2048.8 1181.4L2050.4 1180.7L2052.0 1182.2L2053.6 1181.9L2055.2 1181.9L2056.8 1181.2L2058.4 1183.3L2060.0 1181.0L2061.6 1180.5L2063.2 1180.7L2064.8 1183.5L2066.4 1183.5L2068.0 1180.7L2069.6 1181.3L2071.2 1182.0L2072.8 1182.7L2074.4 1180.8L2076.0 1184.0L2077.6 1181.6L2079.2 1183.4L2080.8 1182.6L2082.4 1182.3L2084.0 1184.3L2085.6 1182.6L2087.2 1183.1L2088.8 1181.5L2090.4 1181.4L2092.0 1183.6L2093.6 1183.3L2095.2 1184.5L2096.8 1183.3L2098.4 1181.0L2100.0 1184.2L2101.6 1182.4L2103.2 1181.5L2104.8 1181.5L2106.4 1182.5L2108.0 1181.2L2109.6 1184.7L2111.2 1182.8L2112.8 1184.8L2114.4 1182.1L2116.0 1183.6L2117.6 1183.9L2119.2 1183.6L2120.8 1185.0L2122.4 1183.9L2124.0 1183.3L2125.6 1185.3L2127.2 1182.8L2128.8 1181.8L2130.4 1184.5L2132.0 1184.0L2133.6 1184.8L2135.2 1183.8L2136.8 1183.1L2138.4 1182.7L2140.0 1183.7L2141.6 1181.8L2143.2 1183.8L2144.8 1184.1L2146.4 1181.7L2148.0 1184.1L2149.6 1183.4L2151.2 1182.3L2152.8 1184.9L2154.4 1182.3L2156.0 1181.3L2157.6 1181.4L2159.2 1182.3L2160.8 1182.2L2162.4 1181.7L2164.0 1183.3L2165.6 1181.8L2167.2 1183.7L2168.8 1181.1L2170.4 1180.9L2172.0 1181.5L2173.6 1181.3L2175.2 1183.8L2176.8 1183.7L2178.4 1184.4L2180.0 1183.8L2181.6 1181.9L2183.2 1183.5L2184.8 1182.4L2186.4 1181.9L2188.0 1181.5L2189.6 1182.0L2191.2 1181.5L2192.8 1184.0L2194.4 1183.2L2196.0 1183.0L2197.6 1182.3L2199.2 1180.2L2200.8 1181.0L2202.4 1181.6L2204.0 1183.2L2205.6 1180.9L2207.2 1183.2L2208.8 1180.8L2210.4 1180.7L2212.0 1182.0L2213.6 1180.0L2215.2 1181.8L2216.8 1182.9L2218.4 1181.8L2220.0 1180.5L2221.6 1183.1L2223.2 1180.3L2224.8 1182.4L2226.4 1183.0L2228.0 1182.4L2229.6 1180.2L2231.2 1181.0L2232.8 1181.1L2234.4 1181.1L2236.0 1181.1L2237.6 1182.9L2239.2 1181.6L2240.8 1181.3L2242.4 1179.8L2244.0 1179.9L2245.6 1179.3L2247.2 1180.2L2248.8 1182.4L2250.4 1182.1L2252.0 1181.1L2253.6 1181.8L2255.2 1179.0L2256.8 1181.7L2258.4 1180.0L2260.0 1181.7L2261.6 1180.4L2263.2 1181.1L2264.8 1181.0L2266.4 1180.6L2268.0 1179.7L2269.6 1179.6L2271.2 1178.9L2272.8 1180.2L2274.4 1182.1L2276.0 1181.1L2277.6 1179.2L2279.2 1181.3L2280.8 1178.8L2282.4 1182.1L2284.0 1180.2L2285.6 1179.3L2287.2 1181.8L2288.8 1180.0L2290.4 1178.6L2292.0 1181.2L2293.6 1181.9L2295.2 1181.6L2296.8 1180.4L2298.4 1181.0L2300.0 1180.7L2301.6 1179.6L2303.2 1179.1L2304.8 1179.8L2306.4 1181.7L2308.0 1181.4L2309.6 1182.2L2311.2 1180.4L2312.8 1179.6L2314.4 1180.5L2315.3 1180.6L2316.1 1164.8L2316.6 1162.8L2317.4 1162.8L2317.9 1164.8L2318.7 1180.6L2319.2 1182.3L2320.8 1180.8L2322.4 1179.4L2324.0 1180.3L2325.6 1181.0L2327.2 1181.6L2328.8 1180.0L2330.4 1179.1L2332.0 1179.3L2333.6 1179.5L2335.2 1182.4L2335.6 1181.2L2336.4 1020.4L2336.5 1018.4L2336.8 1018.4L2337.0 1020.4L2337.8 1181.2L2338.4 1181.5L2339.8 1181.4L2340.6 1096.9L2340.8 1094.9L2341.1 1094.9L2341.2 1096.9L2342.0 1181.4L2343.2 1182.9L2344.8 1179.8L2346.4 1180.2L2348.0 1183.4L2349.6 1183.0L2351.2 1183.3L2352.8 1181.1L2354.4 1183.1L2356.0 1181.9L2357.6 1183.1L2359.2 1182.9L2360.8 1180.4L2362.4 1182.3L2364.0 1182.0L2365.6 1181.2L2367.2 1182.9L2368.8 1184.0L2370.4 1182.4L2372.0 1183.7L2372.4 1182.4L2373.2 1101.5L2373.4 1099.5L2373.8 1099.5L2374.0 1101.5L2374.8 1182.4L2375.2 1183.8L2376.8 1181.2L2378.4 1182.6L2380.0 1181.4L2381.6 1181.5L2383.2 1183.8L2384.8 1183.4L2386.4 1181.9L2388.0 1181.2" stroke="#ee6f88" stroke-width="4.8"/>
  </g>
  <!-- legend -->
  <circle cx="1020.9" cy="1279.6" r="8.3" fill="#4674a2" stroke="#58a6ec" stroke-width="2.4"/>
  <circle cx="1213.3" cy="1279.6" r="8.3" fill="#99526a" stroke="#f07690" stroke-width="2.4"/>

  <g stroke="#323232" stroke-width="2" fill="none">
    <path d="M152 1441.0H2388"/>
    <path d="M152 1534.2H2388"/>
    <path d="M152 1627.4H2388"/>
    <path d="M152 1720.6H2388"/>
    <path d="M152 1813.8H2388"/>
    <path d="M152 1907.0H2388"/>
    <path d="M152 2000.2H2388"/>
    <path d="M152 2093.4H2388"/>
    <path d="M168.0 1441V2100" stroke="#272727"/>
    <path d="M395.3 1441V2100"/>
    <path d="M622.7 1441V2100"/>
    <path d="M850.0 1441V2100"/>
    <path d="M1077.3 1441V2100"/>
    <path d="M1304.7 1441V2100"/>
    <path d="M1532.0 1441V2100"/>
    <path d="M1759.3 1441V2100"/>
    <path d="M1986.6 1441V2100"/>
    <path d="M2214.0 1441V2100"/>
  </g>
  <g class="ax" text-anchor="end"><text x="145.6" y="1449.4">350</text><text x="145.6" y="1542.6">300</text><text x="145.6" y="1635.8">250</text><text x="145.6" y="1729.0">200</text><text x="145.6" y="1822.2">150</text><text x="145.6" y="1915.4">100</text><text x="145.6" y="2008.6">50</text><text x="145.6" y="2101.8">0</text></g>
  <clipPath id="c2"><rect x="166" y="1420" width="2224" height="680"/></clipPath>
  <g clip-path="url(#c2)" fill="none" stroke-linejoin="round" stroke-linecap="butt">
    <path d="M168.2 1625.7C172.8 1624.4 174.9 1623.0 179.6 1622.4C185.9 1621.6 190.0 1623.1 195.7 1622.4C196.4 1622.3 195.0 1620.4 195.7 1620.3C200.7 1619.6 204.3 1620.7 210.0 1620.3C215.0 1619.9 217.6 1617.9 222.5 1618.2C227.6 1618.5 229.9 1620.9 235.0 1622.0C240.6 1623.3 243.6 1624.6 249.2 1624.2C254.3 1623.9 256.6 1620.6 261.7 1620.3C267.3 1619.9 270.4 1622.8 276.0 1622.4C281.1 1622.1 283.5 1620.1 288.5 1618.5C293.5 1616.9 295.9 1615.3 301.0 1614.6C307.3 1613.7 310.6 1614.2 317.0 1614.6C321.4 1614.9 324.2 1614.5 327.8 1616.4C330.6 1617.9 330.9 1620.5 333.0 1623.2C335.9 1627.0 336.8 1630.1 340.3 1632.8C341.8 1634.0 343.7 1633.6 345.6 1632.8C349.4 1631.2 350.7 1628.7 354.5 1626.7C360.0 1623.8 362.9 1622.4 368.8 1620.7C374.3 1619.1 378.1 1621.0 383.0 1618.5C388.8 1615.5 390.1 1611.0 395.6 1607.0C400.1 1603.6 402.8 1602.2 408.0 1600.0C413.2 1597.8 416.2 1596.0 421.7 1596.0C427.0 1596.0 429.5 1599.2 434.9 1600.0C440.4 1600.8 443.6 1598.9 449.0 1600.0C454.3 1601.0 456.3 1604.6 461.6 1605.3C472.0 1606.7 477.8 1604.3 488.4 1605.3C494.3 1605.9 496.9 1608.4 502.7 1609.2C508.3 1610.0 511.3 1609.7 517.0 1609.2C522.0 1608.8 524.5 1606.7 529.5 1607.0C540.2 1607.6 545.5 1610.7 556.2 1611.4C561.2 1611.7 564.3 1611.6 568.7 1609.6C574.3 1607.1 575.7 1600.7 581.2 1600.0C587.1 1599.2 590.8 1603.6 597.3 1605.7C602.2 1607.3 604.7 1608.9 609.8 1609.2C614.7 1609.5 617.3 1607.4 622.3 1607.0C628.7 1606.5 631.9 1607.4 638.3 1607.0C643.3 1606.7 645.8 1605.6 650.8 1605.3C655.8 1605.0 658.4 1604.6 663.3 1605.3C668.7 1606.1 671.5 1609.9 676.5 1609.2C682.2 1608.4 684.3 1603.9 690.0 1601.4C694.8 1599.3 697.6 1597.7 702.6 1597.8C707.6 1597.9 709.9 1601.0 715.0 1601.7C720.6 1602.5 723.7 1601.2 729.4 1601.7C734.7 1602.1 737.4 1604.3 742.6 1603.9C749.5 1603.3 752.8 1600.6 759.7 1599.2C764.6 1598.2 767.2 1598.1 772.2 1597.8C777.2 1597.5 779.7 1597.4 784.7 1597.8C789.0 1598.1 791.2 1598.6 795.4 1599.6C801.2 1600.9 803.9 1602.2 809.7 1603.5C813.9 1604.5 816.1 1605.2 820.4 1605.3C838.2 1605.9 847.3 1606.4 865.0 1605.3C870.2 1605.0 872.4 1602.9 877.5 1601.7C882.4 1600.6 885.0 1599.6 890.0 1599.6C895.7 1599.6 898.6 1601.7 904.3 1601.7C909.3 1601.7 911.9 1599.3 916.8 1599.6C922.2 1600.0 924.6 1602.7 930.0 1603.5C935.3 1604.3 938.2 1604.3 943.5 1603.5C948.6 1602.7 950.9 1600.3 956.0 1599.6C962.0 1598.8 965.7 1598.0 971.4 1599.6C976.4 1601.0 977.9 1606.2 982.8 1607.0C988.1 1607.8 991.6 1605.5 997.0 1603.5C1002.3 1601.5 1004.3 1597.7 1009.6 1597.0C1014.7 1596.4 1018.5 1597.4 1022.8 1600.3C1029.2 1604.6 1030.1 1610.4 1036.4 1615.0C1041.2 1618.4 1044.8 1619.6 1050.6 1620.3C1055.4 1620.9 1058.0 1618.5 1063.0 1618.2C1074.4 1617.6 1080.4 1617.2 1091.7 1618.2C1096.9 1618.7 1099.2 1622.0 1104.2 1622.0C1109.2 1622.0 1111.6 1618.9 1116.7 1618.2C1123.0 1617.4 1126.6 1616.9 1132.7 1618.2C1137.6 1619.3 1139.3 1623.4 1144.2 1624.2C1149.6 1625.1 1154.5 1619.6 1158.4 1622.4C1164.9 1627.0 1163.8 1637.5 1170.2 1642.8C1173.6 1645.6 1177.7 1643.1 1182.7 1642.8C1188.4 1642.5 1191.8 1643.5 1197.0 1641.4C1203.3 1638.9 1205.1 1634.1 1211.3 1631.4C1215.8 1629.4 1218.8 1629.8 1223.8 1629.6C1234.4 1629.1 1239.9 1630.2 1250.5 1629.6C1255.9 1629.3 1259.0 1626.3 1264.0 1627.4C1269.7 1628.6 1271.6 1634.0 1277.3 1635.3C1282.6 1636.5 1287.4 1636.7 1291.6 1633.5C1298.1 1628.4 1297.5 1619.2 1304.0 1614.6C1308.2 1611.7 1313.0 1616.1 1318.4 1614.6C1324.1 1613.0 1326.0 1609.3 1331.6 1607.0C1336.3 1605.0 1339.5 1606.2 1344.0 1603.9C1349.9 1600.9 1351.9 1594.3 1357.6 1593.9C1363.1 1593.5 1365.9 1599.5 1371.9 1601.7C1376.6 1603.4 1379.5 1603.8 1384.4 1603.5C1389.9 1603.1 1393.6 1598.1 1398.0 1600.0C1404.3 1602.8 1406.1 1615.7 1411.2 1615.3C1416.7 1614.8 1418.0 1603.3 1424.4 1597.8C1428.7 1594.2 1432.4 1593.6 1438.0 1592.5C1443.5 1591.5 1446.5 1592.1 1452.2 1592.5C1457.2 1592.8 1461.3 1591.0 1464.7 1594.2C1471.7 1600.7 1471.0 1611.3 1478.0 1616.7C1481.7 1619.5 1486.2 1615.7 1491.5 1614.6C1496.8 1613.5 1499.4 1611.0 1504.7 1611.0C1510.4 1611.0 1513.2 1614.2 1519.0 1614.6C1524.3 1614.9 1527.1 1613.2 1532.5 1612.8C1538.2 1612.4 1541.1 1613.2 1546.8 1612.8C1551.8 1612.5 1554.3 1611.4 1559.3 1611.0C1564.6 1610.6 1567.3 1610.3 1572.5 1611.0C1578.0 1611.7 1580.5 1614.2 1586.0 1614.6C1591.0 1614.9 1593.5 1613.1 1598.6 1612.8C1604.3 1612.4 1607.8 1614.4 1612.9 1612.8C1616.4 1611.7 1617.3 1608.9 1620.0 1606.0C1623.1 1602.7 1623.7 1599.3 1627.5 1597.4C1632.0 1595.2 1635.5 1597.0 1640.7 1595.9C1645.3 1594.9 1647.8 1594.3 1652.0 1592.1C1657.6 1589.1 1659.2 1584.1 1665.2 1582.7C1675.7 1580.3 1682.5 1581.1 1693.4 1582.7C1699.0 1583.5 1701.1 1586.7 1706.5 1588.7C1711.2 1590.5 1713.7 1591.5 1718.6 1592.1C1725.0 1592.9 1728.8 1590.4 1734.8 1592.1C1739.8 1593.5 1740.9 1598.7 1746.0 1599.7C1756.7 1601.8 1763.1 1598.6 1774.3 1599.7C1779.7 1600.2 1782.1 1603.4 1787.4 1603.8C1792.6 1604.2 1795.3 1601.7 1800.6 1601.5C1805.9 1601.3 1809.1 1600.9 1813.8 1603.0C1819.4 1605.5 1821.3 1613.1 1826.2 1612.8C1831.6 1612.5 1833.6 1602.6 1839.4 1601.5C1844.5 1600.5 1847.6 1607.2 1853.3 1607.6C1858.5 1608.0 1861.1 1603.8 1866.5 1603.4C1872.4 1602.9 1875.8 1606.2 1881.5 1605.3C1886.7 1604.5 1890.4 1603.2 1893.9 1599.3C1900.2 1592.2 1899.3 1583.2 1906.0 1577.8C1910.1 1574.5 1915.1 1578.1 1921.0 1577.5C1926.3 1576.9 1929.1 1576.4 1934.2 1574.8C1939.3 1573.2 1942.1 1572.4 1946.6 1569.6C1952.3 1566.1 1953.9 1561.8 1959.8 1559.0C1964.7 1556.7 1968.2 1558.0 1973.7 1556.8C1979.1 1555.6 1981.7 1554.8 1986.9 1553.0C1992.2 1551.2 1994.6 1548.8 2000.0 1547.7C2005.5 1546.6 2009.4 1545.6 2014.3 1547.7C2020.2 1550.2 2021.3 1557.0 2027.1 1559.0C2031.8 1560.6 2035.3 1556.4 2040.7 1556.8C2046.3 1557.2 2049.1 1560.9 2054.6 1560.9C2059.9 1560.9 2062.4 1557.2 2067.8 1556.8C2073.0 1556.4 2075.7 1558.2 2080.9 1559.0C2086.2 1559.8 2088.9 1559.8 2094.1 1560.9C2099.7 1562.1 2102.4 1564.3 2108.0 1564.7C2112.9 1565.1 2115.4 1562.7 2120.4 1562.8C2126.1 1562.9 2129.2 1565.8 2134.7 1565.0C2139.8 1564.3 2141.7 1559.8 2146.8 1559.0C2152.5 1558.1 2155.8 1560.1 2161.8 1560.9C2167.1 1561.6 2169.7 1562.4 2175.0 1562.8C2180.3 1563.2 2183.0 1563.6 2188.2 1562.8C2193.3 1562.0 2195.5 1559.4 2200.6 1559.0C2206.1 1558.6 2208.9 1560.9 2214.5 1560.9C2219.8 1560.9 2222.4 1559.2 2227.7 1559.0C2238.9 1558.5 2244.7 1559.5 2255.9 1559.0C2260.5 1558.8 2263.1 1559.0 2267.2 1557.1C2272.9 1554.5 2274.5 1549.6 2280.3 1547.7C2285.8 1545.9 2289.4 1547.3 2295.4 1547.7C2300.7 1548.1 2303.3 1549.6 2308.6 1549.6C2313.8 1549.6 2316.4 1548.1 2321.7 1547.7C2327.0 1547.3 2331.0 1550.4 2334.9 1547.7C2341.5 1543.3 2342.6 1530.4 2348.0 1530.0C2353.1 1529.6 2354.8 1542.4 2361.2 1545.8C2365.3 1548.0 2369.4 1543.1 2374.4 1544.0C2380.0 1545.0 2382.3 1548.0 2387.6 1550.7" stroke="#55a1e6" stroke-width="4.2"/>
    <path d="M168.2 2091.4C172.6 2091.4 181.6 2091.6 186.0 2091.4C188.0 2091.3 192.0 2090.3 194.0 2090.3C196.0 2090.3 200.0 2091.3 202.0 2091.4C204.5 2091.6 209.5 2091.6 212.0 2091.4C213.5 2091.3 216.5 2090.4 218.0 2090.2C219.4 2090.1 222.3 2090.2 223.8 2090.2C225.2 2090.2 228.1 2090.2 229.5 2090.2C230.9 2090.2 233.8 2090.2 235.2 2090.2C236.7 2090.2 239.6 2090.1 241.0 2090.2C242.5 2090.4 245.5 2091.3 247.0 2091.4C248.7 2091.6 252.3 2091.6 254.0 2091.4C255.5 2091.3 258.5 2090.3 260.0 2090.2C263.5 2090.0 270.5 2090.2 274.0 2090.2C277.5 2090.2 284.5 2090.2 288.0 2090.2C291.5 2090.2 298.5 2090.2 302.0 2090.2C305.5 2090.2 312.5 2090.0 316.0 2090.2C317.5 2090.3 320.5 2091.1 322.0 2091.4C322.1 2091.4 322.4 2091.5 322.5 2091.4C324.1 2090.4 327.3 2087.3 329.0 2087.3C331.2 2087.3 335.6 2091.3 338.0 2091.4C352.3 2092.3 381.5 2091.7 396.0 2091.4C397.8 2091.4 401.2 2090.1 403.0 2090.0C406.9 2089.8 414.6 2090.0 418.5 2090.0C422.4 2090.0 430.1 2090.0 434.0 2090.0C437.9 2090.0 445.6 2090.0 449.5 2090.0C453.4 2090.0 461.1 2089.8 465.0 2090.0C466.8 2090.1 470.2 2091.4 472.0 2091.4C487.3 2091.7 518.3 2092.1 533.5 2091.4C535.9 2091.3 540.2 2088.0 542.5 2088.0C544.8 2088.0 549.1 2091.3 551.5 2091.4C572.7 2092.2 615.7 2091.7 637.0 2091.4C638.5 2091.4 641.5 2090.2 643.0 2090.0C644.5 2089.8 647.7 2090.0 649.2 2090.0C650.8 2090.0 653.9 2090.0 655.5 2090.0C657.1 2090.0 660.2 2090.0 661.8 2090.0C663.3 2090.0 666.5 2089.8 668.0 2090.0C669.5 2090.2 672.5 2091.3 674.0 2091.4C678.2 2091.7 686.8 2091.7 691.0 2091.4C692.5 2091.3 695.5 2090.2 697.0 2090.0C698.5 2089.8 701.5 2090.0 703.0 2090.0C704.5 2090.0 707.5 2090.0 709.0 2090.0C710.5 2090.0 713.5 2090.0 715.0 2090.0C716.5 2090.0 719.5 2089.8 721.0 2090.0C722.5 2090.2 725.5 2091.3 727.0 2091.4C729.2 2091.6 733.8 2091.6 736.0 2091.4C737.8 2091.3 741.2 2090.3 743.0 2090.3C744.8 2090.3 748.2 2091.3 750.0 2091.4C752.9 2091.6 758.7 2091.8 761.5 2091.4C763.6 2091.1 767.5 2088.6 769.5 2088.6C771.5 2088.6 775.4 2091.3 777.5 2091.4C793.8 2092.0 826.6 2091.6 843.0 2091.4C844.8 2091.4 848.2 2090.3 850.0 2090.3C851.8 2090.3 855.2 2091.3 857.0 2091.4C860.0 2091.6 866.0 2091.6 869.0 2091.4C870.5 2091.3 873.5 2090.2 875.0 2090.0C876.5 2089.8 879.7 2090.0 881.2 2090.0C882.8 2090.0 885.9 2090.0 887.5 2090.0C889.1 2090.0 892.2 2090.0 893.8 2090.0C895.3 2090.0 898.5 2089.8 900.0 2090.0C901.5 2090.2 904.5 2091.3 906.0 2091.4C913.7 2091.7 929.3 2091.6 937.0 2091.4C938.8 2091.3 942.2 2090.3 944.0 2090.3C945.8 2090.3 949.2 2091.3 951.0 2091.4C953.6 2091.6 958.9 2091.6 961.5 2091.4C963.3 2091.3 966.8 2090.3 968.5 2090.3C970.2 2090.3 973.7 2091.4 975.5 2091.4C985.5 2091.6 1005.6 2092.0 1015.5 2091.4C1017.6 2091.3 1021.5 2088.6 1023.5 2088.6C1025.5 2088.6 1029.4 2091.3 1031.5 2091.4C1040.8 2092.0 1059.6 2091.6 1069.0 2091.4C1070.8 2091.4 1074.2 2090.3 1076.0 2090.3C1077.8 2090.3 1081.2 2091.4 1083.0 2091.4C1092.9 2091.6 1112.7 2092.0 1122.5 2091.4C1124.6 2091.3 1128.5 2088.6 1130.5 2088.6C1132.5 2088.6 1136.4 2091.3 1138.5 2091.4C1154.6 2092.0 1187.3 2091.6 1203.5 2091.4C1205.3 2091.4 1208.8 2090.3 1210.5 2090.3C1212.2 2090.3 1215.7 2091.3 1217.5 2091.4C1223.1 2091.6 1234.4 2091.7 1240.0 2091.4C1241.5 2091.3 1244.5 2090.2 1246.0 2090.0C1247.5 2089.8 1250.7 2090.0 1252.2 2090.0C1253.8 2090.0 1256.9 2090.0 1258.5 2090.0C1260.1 2090.0 1263.2 2090.0 1264.8 2090.0C1266.3 2090.0 1269.5 2089.8 1271.0 2090.0C1272.5 2090.2 1275.5 2091.2 1277.0 2091.4C1278.0 2091.5 1280.0 2091.6 1281.0 2091.4C1283.0 2090.9 1287.0 2088.4 1289.0 2088.4C1291.0 2088.4 1294.9 2091.1 1297.0 2091.4C1300.4 2091.9 1307.5 2091.6 1311.0 2091.4C1312.5 2091.3 1315.5 2090.2 1317.0 2090.0C1318.7 2089.8 1322.2 2090.0 1324.0 2090.0C1325.8 2090.0 1329.2 2090.0 1331.0 2090.0C1332.8 2090.0 1336.2 2090.0 1338.0 2090.0C1339.8 2090.0 1343.3 2089.8 1345.0 2090.0C1346.5 2090.2 1349.5 2091.4 1351.0 2091.4C1366.6 2091.7 1400.2 2095.1 1413.7 2091.4C1418.6 2090.0 1421.0 2074.7 1424.7 2071.2C1426.4 2069.6 1432.4 2071.2 1435.0 2071.2C1437.6 2071.2 1442.8 2071.2 1445.3 2071.2C1447.9 2071.2 1453.1 2071.2 1455.7 2071.2C1458.3 2071.2 1464.3 2069.6 1466.0 2071.2C1469.7 2074.7 1473.6 2087.5 1477.0 2091.4C1478.0 2092.5 1481.9 2091.5 1483.5 2091.4C1485.3 2091.3 1488.8 2090.3 1490.5 2090.3C1492.2 2090.3 1495.7 2091.3 1497.5 2091.4C1500.6 2091.6 1506.9 2091.6 1510.0 2091.4C1511.3 2091.3 1513.7 2090.2 1515.0 2090.0C1516.2 2089.8 1518.8 2090.0 1520.0 2090.0C1521.2 2090.0 1523.8 2090.0 1525.0 2090.0C1526.2 2090.0 1528.8 2090.0 1530.0 2090.0C1531.2 2090.0 1533.8 2089.8 1535.0 2090.0C1536.3 2090.2 1538.7 2091.3 1540.0 2091.4C1546.1 2091.7 1558.4 2091.6 1564.5 2091.4C1566.3 2091.3 1569.8 2090.3 1571.5 2090.3C1573.2 2090.3 1576.7 2091.3 1578.5 2091.4C1581.6 2091.6 1587.9 2091.6 1591.0 2091.4C1592.8 2091.3 1596.2 2090.3 1598.0 2090.3C1599.8 2090.3 1603.2 2091.3 1605.0 2091.4C1608.4 2091.6 1615.1 2091.6 1618.5 2091.4C1620.3 2091.3 1623.8 2090.3 1625.5 2090.3C1627.2 2090.3 1630.7 2091.3 1632.5 2091.4C1637.9 2091.6 1648.8 2092.2 1654.0 2091.4C1656.7 2091.0 1661.4 2087.5 1664.0 2086.8C1665.8 2086.3 1669.6 2086.8 1671.5 2086.8C1673.4 2086.8 1677.1 2086.8 1679.0 2086.8C1680.9 2086.8 1684.6 2086.8 1686.5 2086.8C1688.4 2086.8 1692.2 2086.3 1694.0 2086.8C1696.6 2087.5 1701.5 2090.3 1704.0 2091.4C1704.1 2091.4 1704.4 2091.5 1704.5 2091.4C1704.7 2091.1 1704.8 2090.1 1705.0 2089.8C1705.1 2089.7 1705.4 2089.8 1705.5 2089.8C1706.6 2089.8 1708.9 2089.8 1710.0 2089.8C1711.2 2089.8 1713.8 2089.8 1715.0 2089.8C1716.2 2089.8 1718.8 2089.6 1720.0 2089.8C1721.5 2090.0 1724.5 2091.3 1726.0 2091.4C1728.7 2091.7 1734.3 2091.6 1737.0 2091.4C1738.8 2091.3 1742.2 2090.3 1744.0 2090.3C1745.8 2090.3 1749.2 2091.4 1751.0 2091.4C1761.1 2091.6 1781.4 2091.6 1791.5 2091.4C1793.3 2091.4 1796.8 2090.3 1798.5 2090.3C1800.2 2090.3 1803.7 2091.4 1805.5 2091.4C1818.5 2091.6 1844.5 2091.6 1857.5 2091.4C1859.3 2091.4 1862.8 2090.3 1864.5 2090.3C1866.2 2090.3 1869.7 2091.3 1871.5 2091.4C1878.1 2091.6 1891.5 2092.0 1898.0 2091.4C1900.1 2091.2 1904.0 2088.0 1906.0 2088.0C1908.0 2088.0 1911.9 2091.2 1914.0 2091.4C1919.7 2092.0 1931.6 2091.6 1937.5 2091.4C1939.3 2091.3 1942.8 2090.3 1944.5 2090.3C1946.2 2090.3 1949.7 2091.3 1951.5 2091.4C1954.9 2091.6 1961.6 2091.6 1965.0 2091.4C1966.8 2091.3 1970.2 2090.3 1972.0 2090.3C1973.8 2090.3 1977.2 2091.4 1979.0 2091.4C1992.6 2091.6 2019.9 2091.6 2033.5 2091.4C2035.3 2091.4 2038.8 2090.3 2040.5 2090.3C2042.2 2090.3 2045.7 2091.4 2047.5 2091.4C2073.6 2091.7 2125.9 2091.7 2152.0 2091.4C2153.8 2091.4 2157.2 2090.3 2159.0 2090.3C2160.8 2090.3 2164.2 2091.4 2166.0 2091.4C2192.7 2091.7 2246.3 2091.7 2273.0 2091.4C2274.8 2091.4 2278.2 2090.3 2280.0 2090.3C2281.8 2090.3 2285.2 2091.3 2287.0 2091.4C2293.7 2091.6 2307.3 2091.6 2314.0 2091.4C2315.8 2091.3 2319.2 2090.3 2321.0 2090.3C2322.8 2090.3 2326.2 2091.4 2328.0 2091.4C2343.0 2091.6 2373.0 2091.4 2388.0 2091.4" stroke="#f0a253" stroke-width="4.2"/>
    <path d="M168.2 2093.6H2388" stroke="#ee6f88" stroke-width="4.4"/>
  </g>
</svg>
<div class="t b" id="t_leg1" style="left:1039.5px;top:1266.68px;font-size:24.6px;transform:scaleX(0.9750)">Total Players</div>
<div class="t b" id="t_leg2" style="left:1232.1px;top:1266.68px;font-size:24.6px;transform:scaleX(0.9786)">Unregistered Players</div>

<!-- dropdown (open) -->
<div class="abs menu"></div>
<div class="abs btn" style="left:202px;width:448.6px"></div>
<div class="t b" id="t_sel" style="left:232.3px;top:342.64px;font-size:25.0px;transform:scaleX(0.9505)">Concurrent Players &amp; Lobbies</div>
<svg width="2468" height="400" viewBox="0 0 2468 400">
  <path d="M612.9 348.9 L620.6 357.0 H605.2 Z" fill="#ececec" stroke="#ececec" stroke-width="3.6" stroke-linejoin="round"/>
  <path d="M882.4 351.2 H898.1 L890.25 359 Z" fill="#ececec" stroke="#ececec" stroke-width="3.6" stroke-linejoin="round"/>
  <path d="M1234 351.2 H1249.8 L1241.9 359 Z" fill="#ececec" stroke="#ececec" stroke-width="3.6" stroke-linejoin="round"/>
</svg>
<div class="t b" id="t_m1" style="left:229px;top:413.91px;font-size:32px;transform:scaleX(1.0892)">Matchmaker</div>
<div class="t b" id="t_i1" style="left:229px;top:474.74px;font-size:25.0px;transform:scaleX(0.9677)">Overview</div>
<div class="t b" id="t_i2" style="left:229px;top:528.04px;font-size:25.0px;transform:scaleX(0.9486)">Concurrent Players &amp; Lobbies</div>
<div class="t b" id="t_i3" style="left:229px;top:581.24px;font-size:25.0px;transform:scaleX(0.9415)">Player Analytics</div>
<div class="t b" id="t_i4" style="left:229px;top:634.34px;font-size:25.0px;transform:scaleX(0.9315)">Lobby Analytics</div>
<div class="t b" id="t_m2" style="left:229px;top:700.91px;font-size:32px;transform:scaleX(1.1021)">Identity</div>
<div class="t b" id="t_i5" style="left:229px;top:762.34px;font-size:25.0px;transform:scaleX(0.9677)">Overview</div>

<div class="abs scroll"></div>
</body>
</html>
